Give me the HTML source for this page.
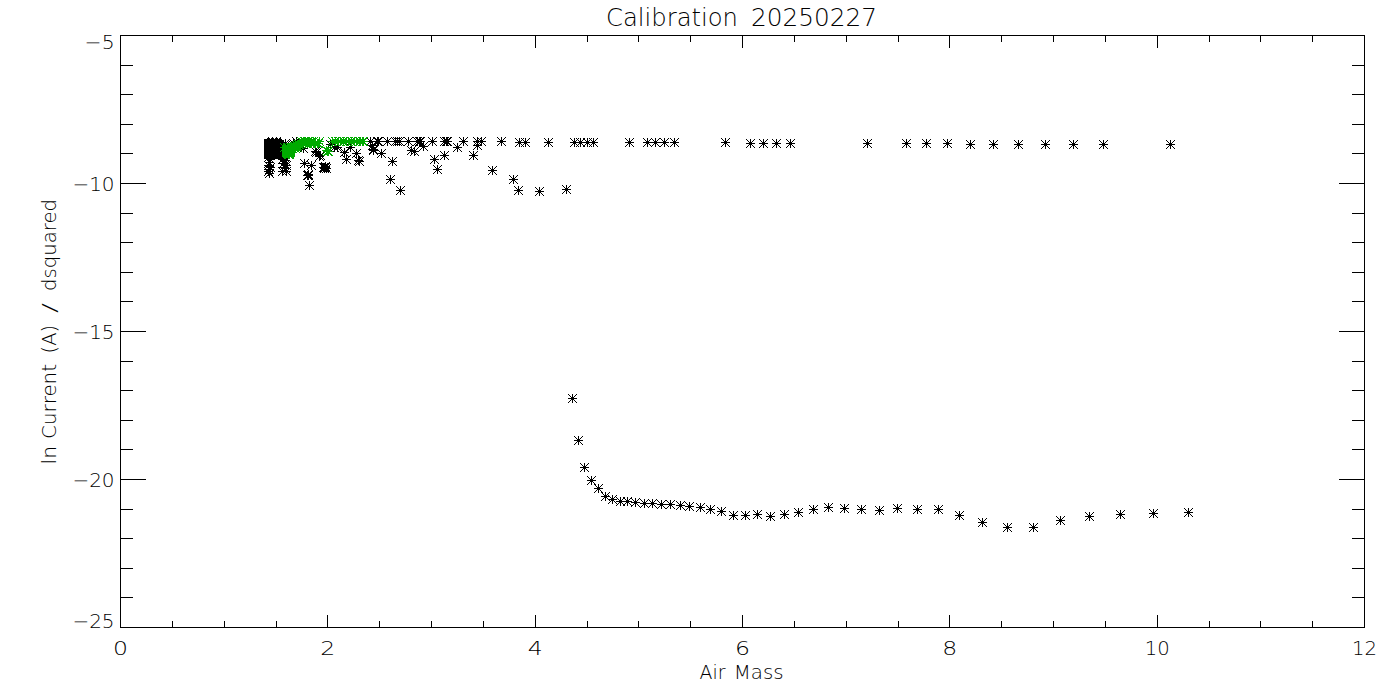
<!DOCTYPE html>
<html lang="en">
<head>
<meta charset="utf-8">
<title>Calibration 20250227</title>
<style>
html,body{margin:0;padding:0;background:#fff;}
body{width:1400px;height:700px;overflow:hidden;}
svg{display:block;}
text{font-family:"DejaVu Sans", "Liberation Sans", sans-serif;font-weight:200;fill:#000;}
.k{fill:#000;}
.g{fill:#00aa00;}
</style>
</head>
<body>
<svg width="1400" height="700" viewBox="0 0 1400 700" shape-rendering="crispEdges">
<rect width="1400" height="700" fill="#fff"/>
<path class="k" d="M120 35h1245v1h-1245zM120 627h1245v1h-1245zM120 35h1v593h-1zM1364 35h1v593h-1zM120 615h1v13h-1zM120 35h1v13h-1zM172 621h1v7h-1zM172 35h1v7h-1zM224 621h1v7h-1zM224 35h1v7h-1zM276 621h1v7h-1zM276 35h1v7h-1zM327 615h1v13h-1zM327 35h1v13h-1zM379 621h1v7h-1zM379 35h1v7h-1zM431 621h1v7h-1zM431 35h1v7h-1zM483 621h1v7h-1zM483 35h1v7h-1zM535 615h1v13h-1zM535 35h1v13h-1zM587 621h1v7h-1zM587 35h1v7h-1zM638 621h1v7h-1zM638 35h1v7h-1zM690 621h1v7h-1zM690 35h1v7h-1zM742 615h1v13h-1zM742 35h1v13h-1zM794 621h1v7h-1zM794 35h1v7h-1zM846 621h1v7h-1zM846 35h1v7h-1zM898 621h1v7h-1zM898 35h1v7h-1zM949 615h1v13h-1zM949 35h1v13h-1zM1001 621h1v7h-1zM1001 35h1v7h-1zM1053 621h1v7h-1zM1053 35h1v7h-1zM1105 621h1v7h-1zM1105 35h1v7h-1zM1157 615h1v13h-1zM1157 35h1v13h-1zM1209 621h1v7h-1zM1209 35h1v7h-1zM1260 621h1v7h-1zM1260 35h1v7h-1zM1312 621h1v7h-1zM1312 35h1v7h-1zM1364 615h1v13h-1zM1364 35h1v13h-1zM120 35h26v1h-26zM1339 35h26v1h-26zM120 65h13v1h-13zM1352 65h13v1h-13zM120 94h13v1h-13zM1352 94h13v1h-13zM120 124h13v1h-13zM1352 124h13v1h-13zM120 153h13v1h-13zM1352 153h13v1h-13zM120 183h26v1h-26zM1339 183h26v1h-26zM120 213h13v1h-13zM1352 213h13v1h-13zM120 242h13v1h-13zM1352 242h13v1h-13zM120 272h13v1h-13zM1352 272h13v1h-13zM120 301h13v1h-13zM1352 301h13v1h-13zM120 331h26v1h-26zM1339 331h26v1h-26zM120 361h13v1h-13zM1352 361h13v1h-13zM120 390h13v1h-13zM1352 390h13v1h-13zM120 420h13v1h-13zM1352 420h13v1h-13zM120 449h13v1h-13zM1352 449h13v1h-13zM120 479h26v1h-26zM1339 479h26v1h-26zM120 509h13v1h-13zM1352 509h13v1h-13zM120 538h13v1h-13zM1352 538h13v1h-13zM120 568h13v1h-13zM1352 568h13v1h-13zM120 597h13v1h-13zM1352 597h13v1h-13zM120 627h26v1h-26zM1339 627h26v1h-26z"/>
<text y="25.5" font-size="24"><tspan x="606" textLength="132" lengthAdjust="spacingAndGlyphs">Calibration</tspan> <tspan x="751" textLength="126" lengthAdjust="spacingAndGlyphs">20250227</tspan></text>
<text y="679" font-size="19.2"><tspan x="699.5" textLength="26.0" lengthAdjust="spacingAndGlyphs">Air</tspan> <tspan x="733.7" textLength="50.0" lengthAdjust="spacingAndGlyphs">Mass</tspan></text>
<text transform="translate(56,463) rotate(-90)" y="0" font-size="19.2"><tspan x="-1.5" textLength="18.5" lengthAdjust="spacingAndGlyphs">ln</tspan> <tspan x="24" textLength="75" lengthAdjust="spacingAndGlyphs">Current</tspan> <tspan x="109.6" textLength="28.5" lengthAdjust="spacingAndGlyphs">(A)</tspan> <tspan x="150" textLength="10" lengthAdjust="spacingAndGlyphs">/</tspan> <tspan x="172" textLength="92" lengthAdjust="spacingAndGlyphs">dsquared</tspan></text>
<text x="113.0" y="655" font-size="19.2" textLength="15" lengthAdjust="spacingAndGlyphs">0</text>
<text x="320.3" y="655" font-size="19.2" textLength="15" lengthAdjust="spacingAndGlyphs">2</text>
<text x="527.7" y="655" font-size="19.2" textLength="15" lengthAdjust="spacingAndGlyphs">4</text>
<text x="735.0" y="655" font-size="19.2" textLength="15" lengthAdjust="spacingAndGlyphs">6</text>
<text x="942.3" y="655" font-size="19.2" textLength="15" lengthAdjust="spacingAndGlyphs">8</text>
<text x="1144.7" y="655" font-size="19.2" textLength="25" lengthAdjust="spacingAndGlyphs">10</text>
<text x="1352.0" y="655" font-size="19.2" textLength="25" lengthAdjust="spacingAndGlyphs">12</text>
<text x="84.6" y="49" font-size="19.2" textLength="30" lengthAdjust="spacingAndGlyphs">−5</text>
<text x="72.4" y="191" font-size="19.2" textLength="42.2" lengthAdjust="spacingAndGlyphs">−10</text>
<text x="72.4" y="339" font-size="19.2" textLength="42.2" lengthAdjust="spacingAndGlyphs">−15</text>
<text x="72.4" y="487" font-size="19.2" textLength="42.2" lengthAdjust="spacingAndGlyphs">−20</text>
<text x="72.4" y="628" font-size="19.2" textLength="42.2" lengthAdjust="spacingAndGlyphs">−25</text>
<g class="k">
<path d="M568 398h9v1h-9zM572 394h1v9h-1zM571 397h3v3h-3zM570 396h1v1h-1zM574 396h1v1h-1zM570 400h1v1h-1zM574 400h1v1h-1zM569 395h1v1h-1zM575 395h1v1h-1zM569 401h1v1h-1zM575 401h1v1h-1zM568 394h1v1h-1zM576 394h1v1h-1zM568 402h1v1h-1zM576 402h1v1h-1z"/>
<path d="M574 440h9v1h-9zM578 436h1v9h-1zM577 439h3v3h-3zM576 438h1v1h-1zM580 438h1v1h-1zM576 442h1v1h-1zM580 442h1v1h-1zM575 437h1v1h-1zM581 437h1v1h-1zM575 443h1v1h-1zM581 443h1v1h-1zM574 436h1v1h-1zM582 436h1v1h-1zM574 444h1v1h-1zM582 444h1v1h-1z"/>
<path d="M580 467h9v1h-9zM584 463h1v9h-1zM583 466h3v3h-3zM582 465h1v1h-1zM586 465h1v1h-1zM582 469h1v1h-1zM586 469h1v1h-1zM581 464h1v1h-1zM587 464h1v1h-1zM581 470h1v1h-1zM587 470h1v1h-1zM580 463h1v1h-1zM588 463h1v1h-1zM580 471h1v1h-1zM588 471h1v1h-1z"/>
<path d="M587 480h9v1h-9zM591 476h1v9h-1zM590 479h3v3h-3zM589 478h1v1h-1zM593 478h1v1h-1zM589 482h1v1h-1zM593 482h1v1h-1zM588 477h1v1h-1zM594 477h1v1h-1zM588 483h1v1h-1zM594 483h1v1h-1zM587 476h1v1h-1zM595 476h1v1h-1zM587 484h1v1h-1zM595 484h1v1h-1z"/>
<path d="M594 488h9v1h-9zM598 484h1v9h-1zM597 487h3v3h-3zM596 486h1v1h-1zM600 486h1v1h-1zM596 490h1v1h-1zM600 490h1v1h-1zM595 485h1v1h-1zM601 485h1v1h-1zM595 491h1v1h-1zM601 491h1v1h-1zM594 484h1v1h-1zM602 484h1v1h-1zM594 492h1v1h-1zM602 492h1v1h-1z"/>
<path d="M601 496h9v1h-9zM605 492h1v9h-1zM604 495h3v3h-3zM603 494h1v1h-1zM607 494h1v1h-1zM603 498h1v1h-1zM607 498h1v1h-1zM602 493h1v1h-1zM608 493h1v1h-1zM602 499h1v1h-1zM608 499h1v1h-1zM601 492h1v1h-1zM609 492h1v1h-1zM601 500h1v1h-1zM609 500h1v1h-1z"/>
<path d="M608 499h9v1h-9zM612 495h1v9h-1zM611 498h3v3h-3zM610 497h1v1h-1zM614 497h1v1h-1zM610 501h1v1h-1zM614 501h1v1h-1zM609 496h1v1h-1zM615 496h1v1h-1zM609 502h1v1h-1zM615 502h1v1h-1zM608 495h1v1h-1zM616 495h1v1h-1zM608 503h1v1h-1zM616 503h1v1h-1z"/>
<path d="M616 501h9v1h-9zM620 497h1v9h-1zM619 500h3v3h-3zM618 499h1v1h-1zM622 499h1v1h-1zM618 503h1v1h-1zM622 503h1v1h-1zM617 498h1v1h-1zM623 498h1v1h-1zM617 504h1v1h-1zM623 504h1v1h-1zM616 497h1v1h-1zM624 497h1v1h-1zM616 505h1v1h-1zM624 505h1v1h-1z"/>
<path d="M623 501h9v1h-9zM627 497h1v9h-1zM626 500h3v3h-3zM625 499h1v1h-1zM629 499h1v1h-1zM625 503h1v1h-1zM629 503h1v1h-1zM624 498h1v1h-1zM630 498h1v1h-1zM624 504h1v1h-1zM630 504h1v1h-1zM623 497h1v1h-1zM631 497h1v1h-1zM623 505h1v1h-1zM631 505h1v1h-1z"/>
<path d="M631 502h9v1h-9zM635 498h1v9h-1zM634 501h3v3h-3zM633 500h1v1h-1zM637 500h1v1h-1zM633 504h1v1h-1zM637 504h1v1h-1zM632 499h1v1h-1zM638 499h1v1h-1zM632 505h1v1h-1zM638 505h1v1h-1zM631 498h1v1h-1zM639 498h1v1h-1zM631 506h1v1h-1zM639 506h1v1h-1z"/>
<path d="M640 503h9v1h-9zM644 499h1v9h-1zM643 502h3v3h-3zM642 501h1v1h-1zM646 501h1v1h-1zM642 505h1v1h-1zM646 505h1v1h-1zM641 500h1v1h-1zM647 500h1v1h-1zM641 506h1v1h-1zM647 506h1v1h-1zM640 499h1v1h-1zM648 499h1v1h-1zM640 507h1v1h-1zM648 507h1v1h-1z"/>
<path d="M648 503h9v1h-9zM652 499h1v9h-1zM651 502h3v3h-3zM650 501h1v1h-1zM654 501h1v1h-1zM650 505h1v1h-1zM654 505h1v1h-1zM649 500h1v1h-1zM655 500h1v1h-1zM649 506h1v1h-1zM655 506h1v1h-1zM648 499h1v1h-1zM656 499h1v1h-1zM648 507h1v1h-1zM656 507h1v1h-1z"/>
<path d="M657 504h9v1h-9zM661 500h1v9h-1zM660 503h3v3h-3zM659 502h1v1h-1zM663 502h1v1h-1zM659 506h1v1h-1zM663 506h1v1h-1zM658 501h1v1h-1zM664 501h1v1h-1zM658 507h1v1h-1zM664 507h1v1h-1zM657 500h1v1h-1zM665 500h1v1h-1zM657 508h1v1h-1zM665 508h1v1h-1z"/>
<path d="M666 504h9v1h-9zM670 500h1v9h-1zM669 503h3v3h-3zM668 502h1v1h-1zM672 502h1v1h-1zM668 506h1v1h-1zM672 506h1v1h-1zM667 501h1v1h-1zM673 501h1v1h-1zM667 507h1v1h-1zM673 507h1v1h-1zM666 500h1v1h-1zM674 500h1v1h-1zM666 508h1v1h-1zM674 508h1v1h-1z"/>
<path d="M676 505h9v1h-9zM680 501h1v9h-1zM679 504h3v3h-3zM678 503h1v1h-1zM682 503h1v1h-1zM678 507h1v1h-1zM682 507h1v1h-1zM677 502h1v1h-1zM683 502h1v1h-1zM677 508h1v1h-1zM683 508h1v1h-1zM676 501h1v1h-1zM684 501h1v1h-1zM676 509h1v1h-1zM684 509h1v1h-1z"/>
<path d="M685 506h9v1h-9zM689 502h1v9h-1zM688 505h3v3h-3zM687 504h1v1h-1zM691 504h1v1h-1zM687 508h1v1h-1zM691 508h1v1h-1zM686 503h1v1h-1zM692 503h1v1h-1zM686 509h1v1h-1zM692 509h1v1h-1zM685 502h1v1h-1zM693 502h1v1h-1zM685 510h1v1h-1zM693 510h1v1h-1z"/>
<path d="M696 507h9v1h-9zM700 503h1v9h-1zM699 506h3v3h-3zM698 505h1v1h-1zM702 505h1v1h-1zM698 509h1v1h-1zM702 509h1v1h-1zM697 504h1v1h-1zM703 504h1v1h-1zM697 510h1v1h-1zM703 510h1v1h-1zM696 503h1v1h-1zM704 503h1v1h-1zM696 511h1v1h-1zM704 511h1v1h-1z"/>
<path d="M706 509h9v1h-9zM710 505h1v9h-1zM709 508h3v3h-3zM708 507h1v1h-1zM712 507h1v1h-1zM708 511h1v1h-1zM712 511h1v1h-1zM707 506h1v1h-1zM713 506h1v1h-1zM707 512h1v1h-1zM713 512h1v1h-1zM706 505h1v1h-1zM714 505h1v1h-1zM706 513h1v1h-1zM714 513h1v1h-1z"/>
<path d="M717 511h9v1h-9zM721 507h1v9h-1zM720 510h3v3h-3zM719 509h1v1h-1zM723 509h1v1h-1zM719 513h1v1h-1zM723 513h1v1h-1zM718 508h1v1h-1zM724 508h1v1h-1zM718 514h1v1h-1zM724 514h1v1h-1zM717 507h1v1h-1zM725 507h1v1h-1zM717 515h1v1h-1zM725 515h1v1h-1z"/>
<path d="M729 515h9v1h-9zM733 511h1v9h-1zM732 514h3v3h-3zM731 513h1v1h-1zM735 513h1v1h-1zM731 517h1v1h-1zM735 517h1v1h-1zM730 512h1v1h-1zM736 512h1v1h-1zM730 518h1v1h-1zM736 518h1v1h-1zM729 511h1v1h-1zM737 511h1v1h-1zM729 519h1v1h-1zM737 519h1v1h-1z"/>
<path d="M741 515h9v1h-9zM745 511h1v9h-1zM744 514h3v3h-3zM743 513h1v1h-1zM747 513h1v1h-1zM743 517h1v1h-1zM747 517h1v1h-1zM742 512h1v1h-1zM748 512h1v1h-1zM742 518h1v1h-1zM748 518h1v1h-1zM741 511h1v1h-1zM749 511h1v1h-1zM741 519h1v1h-1zM749 519h1v1h-1z"/>
<path d="M753 514h9v1h-9zM757 510h1v9h-1zM756 513h3v3h-3zM755 512h1v1h-1zM759 512h1v1h-1zM755 516h1v1h-1zM759 516h1v1h-1zM754 511h1v1h-1zM760 511h1v1h-1zM754 517h1v1h-1zM760 517h1v1h-1zM753 510h1v1h-1zM761 510h1v1h-1zM753 518h1v1h-1zM761 518h1v1h-1z"/>
<path d="M766 516h9v1h-9zM770 512h1v9h-1zM769 515h3v3h-3zM768 514h1v1h-1zM772 514h1v1h-1zM768 518h1v1h-1zM772 518h1v1h-1zM767 513h1v1h-1zM773 513h1v1h-1zM767 519h1v1h-1zM773 519h1v1h-1zM766 512h1v1h-1zM774 512h1v1h-1zM766 520h1v1h-1zM774 520h1v1h-1z"/>
<path d="M780 514h9v1h-9zM784 510h1v9h-1zM783 513h3v3h-3zM782 512h1v1h-1zM786 512h1v1h-1zM782 516h1v1h-1zM786 516h1v1h-1zM781 511h1v1h-1zM787 511h1v1h-1zM781 517h1v1h-1zM787 517h1v1h-1zM780 510h1v1h-1zM788 510h1v1h-1zM780 518h1v1h-1zM788 518h1v1h-1z"/>
<path d="M794 512h9v1h-9zM798 508h1v9h-1zM797 511h3v3h-3zM796 510h1v1h-1zM800 510h1v1h-1zM796 514h1v1h-1zM800 514h1v1h-1zM795 509h1v1h-1zM801 509h1v1h-1zM795 515h1v1h-1zM801 515h1v1h-1zM794 508h1v1h-1zM802 508h1v1h-1zM794 516h1v1h-1zM802 516h1v1h-1z"/>
<path d="M809 509h9v1h-9zM813 505h1v9h-1zM812 508h3v3h-3zM811 507h1v1h-1zM815 507h1v1h-1zM811 511h1v1h-1zM815 511h1v1h-1zM810 506h1v1h-1zM816 506h1v1h-1zM810 512h1v1h-1zM816 512h1v1h-1zM809 505h1v1h-1zM817 505h1v1h-1zM809 513h1v1h-1zM817 513h1v1h-1z"/>
<path d="M824 507h9v1h-9zM828 503h1v9h-1zM827 506h3v3h-3zM826 505h1v1h-1zM830 505h1v1h-1zM826 509h1v1h-1zM830 509h1v1h-1zM825 504h1v1h-1zM831 504h1v1h-1zM825 510h1v1h-1zM831 510h1v1h-1zM824 503h1v1h-1zM832 503h1v1h-1zM824 511h1v1h-1zM832 511h1v1h-1z"/>
<path d="M840 508h9v1h-9zM844 504h1v9h-1zM843 507h3v3h-3zM842 506h1v1h-1zM846 506h1v1h-1zM842 510h1v1h-1zM846 510h1v1h-1zM841 505h1v1h-1zM847 505h1v1h-1zM841 511h1v1h-1zM847 511h1v1h-1zM840 504h1v1h-1zM848 504h1v1h-1zM840 512h1v1h-1zM848 512h1v1h-1z"/>
<path d="M857 509h9v1h-9zM861 505h1v9h-1zM860 508h3v3h-3zM859 507h1v1h-1zM863 507h1v1h-1zM859 511h1v1h-1zM863 511h1v1h-1zM858 506h1v1h-1zM864 506h1v1h-1zM858 512h1v1h-1zM864 512h1v1h-1zM857 505h1v1h-1zM865 505h1v1h-1zM857 513h1v1h-1zM865 513h1v1h-1z"/>
<path d="M875 510h9v1h-9zM879 506h1v9h-1zM878 509h3v3h-3zM877 508h1v1h-1zM881 508h1v1h-1zM877 512h1v1h-1zM881 512h1v1h-1zM876 507h1v1h-1zM882 507h1v1h-1zM876 513h1v1h-1zM882 513h1v1h-1zM875 506h1v1h-1zM883 506h1v1h-1zM875 514h1v1h-1zM883 514h1v1h-1z"/>
<path d="M893 508h9v1h-9zM897 504h1v9h-1zM896 507h3v3h-3zM895 506h1v1h-1zM899 506h1v1h-1zM895 510h1v1h-1zM899 510h1v1h-1zM894 505h1v1h-1zM900 505h1v1h-1zM894 511h1v1h-1zM900 511h1v1h-1zM893 504h1v1h-1zM901 504h1v1h-1zM893 512h1v1h-1zM901 512h1v1h-1z"/>
<path d="M913 509h9v1h-9zM917 505h1v9h-1zM916 508h3v3h-3zM915 507h1v1h-1zM919 507h1v1h-1zM915 511h1v1h-1zM919 511h1v1h-1zM914 506h1v1h-1zM920 506h1v1h-1zM914 512h1v1h-1zM920 512h1v1h-1zM913 505h1v1h-1zM921 505h1v1h-1zM913 513h1v1h-1zM921 513h1v1h-1z"/>
<path d="M934 509h9v1h-9zM938 505h1v9h-1zM937 508h3v3h-3zM936 507h1v1h-1zM940 507h1v1h-1zM936 511h1v1h-1zM940 511h1v1h-1zM935 506h1v1h-1zM941 506h1v1h-1zM935 512h1v1h-1zM941 512h1v1h-1zM934 505h1v1h-1zM942 505h1v1h-1zM934 513h1v1h-1zM942 513h1v1h-1z"/>
<path d="M955 515h9v1h-9zM959 511h1v9h-1zM958 514h3v3h-3zM957 513h1v1h-1zM961 513h1v1h-1zM957 517h1v1h-1zM961 517h1v1h-1zM956 512h1v1h-1zM962 512h1v1h-1zM956 518h1v1h-1zM962 518h1v1h-1zM955 511h1v1h-1zM963 511h1v1h-1zM955 519h1v1h-1zM963 519h1v1h-1z"/>
<path d="M978 522h9v1h-9zM982 518h1v9h-1zM981 521h3v3h-3zM980 520h1v1h-1zM984 520h1v1h-1zM980 524h1v1h-1zM984 524h1v1h-1zM979 519h1v1h-1zM985 519h1v1h-1zM979 525h1v1h-1zM985 525h1v1h-1zM978 518h1v1h-1zM986 518h1v1h-1zM978 526h1v1h-1zM986 526h1v1h-1z"/>
<path d="M1003 527h9v1h-9zM1007 523h1v9h-1zM1006 526h3v3h-3zM1005 525h1v1h-1zM1009 525h1v1h-1zM1005 529h1v1h-1zM1009 529h1v1h-1zM1004 524h1v1h-1zM1010 524h1v1h-1zM1004 530h1v1h-1zM1010 530h1v1h-1zM1003 523h1v1h-1zM1011 523h1v1h-1zM1003 531h1v1h-1zM1011 531h1v1h-1z"/>
<path d="M1029 527h9v1h-9zM1033 523h1v9h-1zM1032 526h3v3h-3zM1031 525h1v1h-1zM1035 525h1v1h-1zM1031 529h1v1h-1zM1035 529h1v1h-1zM1030 524h1v1h-1zM1036 524h1v1h-1zM1030 530h1v1h-1zM1036 530h1v1h-1zM1029 523h1v1h-1zM1037 523h1v1h-1zM1029 531h1v1h-1zM1037 531h1v1h-1z"/>
<path d="M1056 520h9v1h-9zM1060 516h1v9h-1zM1059 519h3v3h-3zM1058 518h1v1h-1zM1062 518h1v1h-1zM1058 522h1v1h-1zM1062 522h1v1h-1zM1057 517h1v1h-1zM1063 517h1v1h-1zM1057 523h1v1h-1zM1063 523h1v1h-1zM1056 516h1v1h-1zM1064 516h1v1h-1zM1056 524h1v1h-1zM1064 524h1v1h-1z"/>
<path d="M1085 516h9v1h-9zM1089 512h1v9h-1zM1088 515h3v3h-3zM1087 514h1v1h-1zM1091 514h1v1h-1zM1087 518h1v1h-1zM1091 518h1v1h-1zM1086 513h1v1h-1zM1092 513h1v1h-1zM1086 519h1v1h-1zM1092 519h1v1h-1zM1085 512h1v1h-1zM1093 512h1v1h-1zM1085 520h1v1h-1zM1093 520h1v1h-1z"/>
<path d="M1116 514h9v1h-9zM1120 510h1v9h-1zM1119 513h3v3h-3zM1118 512h1v1h-1zM1122 512h1v1h-1zM1118 516h1v1h-1zM1122 516h1v1h-1zM1117 511h1v1h-1zM1123 511h1v1h-1zM1117 517h1v1h-1zM1123 517h1v1h-1zM1116 510h1v1h-1zM1124 510h1v1h-1zM1116 518h1v1h-1zM1124 518h1v1h-1z"/>
<path d="M1149 513h9v1h-9zM1153 509h1v9h-1zM1152 512h3v3h-3zM1151 511h1v1h-1zM1155 511h1v1h-1zM1151 515h1v1h-1zM1155 515h1v1h-1zM1150 510h1v1h-1zM1156 510h1v1h-1zM1150 516h1v1h-1zM1156 516h1v1h-1zM1149 509h1v1h-1zM1157 509h1v1h-1zM1149 517h1v1h-1zM1157 517h1v1h-1z"/>
<path d="M1184 512h9v1h-9zM1188 508h1v9h-1zM1187 511h3v3h-3zM1186 510h1v1h-1zM1190 510h1v1h-1zM1186 514h1v1h-1zM1190 514h1v1h-1zM1185 509h1v1h-1zM1191 509h1v1h-1zM1185 515h1v1h-1zM1191 515h1v1h-1zM1184 508h1v1h-1zM1192 508h1v1h-1zM1184 516h1v1h-1zM1192 516h1v1h-1z"/>
<path d="M497 141h9v1h-9zM501 137h1v9h-1zM500 140h3v3h-3zM499 139h1v1h-1zM503 139h1v1h-1zM499 143h1v1h-1zM503 143h1v1h-1zM498 138h1v1h-1zM504 138h1v1h-1zM498 144h1v1h-1zM504 144h1v1h-1zM497 137h1v1h-1zM505 137h1v1h-1zM497 145h1v1h-1zM505 145h1v1h-1z"/>
<path d="M515 142h9v1h-9zM519 138h1v9h-1zM518 141h3v3h-3zM517 140h1v1h-1zM521 140h1v1h-1zM517 144h1v1h-1zM521 144h1v1h-1zM516 139h1v1h-1zM522 139h1v1h-1zM516 145h1v1h-1zM522 145h1v1h-1zM515 138h1v1h-1zM523 138h1v1h-1zM515 146h1v1h-1zM523 146h1v1h-1z"/>
<path d="M521 142h9v1h-9zM525 138h1v9h-1zM524 141h3v3h-3zM523 140h1v1h-1zM527 140h1v1h-1zM523 144h1v1h-1zM527 144h1v1h-1zM522 139h1v1h-1zM528 139h1v1h-1zM522 145h1v1h-1zM528 145h1v1h-1zM521 138h1v1h-1zM529 138h1v1h-1zM521 146h1v1h-1zM529 146h1v1h-1z"/>
<path d="M544 142h9v1h-9zM548 138h1v9h-1zM547 141h3v3h-3zM546 140h1v1h-1zM550 140h1v1h-1zM546 144h1v1h-1zM550 144h1v1h-1zM545 139h1v1h-1zM551 139h1v1h-1zM545 145h1v1h-1zM551 145h1v1h-1zM544 138h1v1h-1zM552 138h1v1h-1zM544 146h1v1h-1zM552 146h1v1h-1z"/>
<path d="M570 142h9v1h-9zM574 138h1v9h-1zM573 141h3v3h-3zM572 140h1v1h-1zM576 140h1v1h-1zM572 144h1v1h-1zM576 144h1v1h-1zM571 139h1v1h-1zM577 139h1v1h-1zM571 145h1v1h-1zM577 145h1v1h-1zM570 138h1v1h-1zM578 138h1v1h-1zM570 146h1v1h-1zM578 146h1v1h-1z"/>
<path d="M576 142h9v1h-9zM580 138h1v9h-1zM579 141h3v3h-3zM578 140h1v1h-1zM582 140h1v1h-1zM578 144h1v1h-1zM582 144h1v1h-1zM577 139h1v1h-1zM583 139h1v1h-1zM577 145h1v1h-1zM583 145h1v1h-1zM576 138h1v1h-1zM584 138h1v1h-1zM576 146h1v1h-1zM584 146h1v1h-1z"/>
<path d="M583 142h9v1h-9zM587 138h1v9h-1zM586 141h3v3h-3zM585 140h1v1h-1zM589 140h1v1h-1zM585 144h1v1h-1zM589 144h1v1h-1zM584 139h1v1h-1zM590 139h1v1h-1zM584 145h1v1h-1zM590 145h1v1h-1zM583 138h1v1h-1zM591 138h1v1h-1zM583 146h1v1h-1zM591 146h1v1h-1z"/>
<path d="M589 142h9v1h-9zM593 138h1v9h-1zM592 141h3v3h-3zM591 140h1v1h-1zM595 140h1v1h-1zM591 144h1v1h-1zM595 144h1v1h-1zM590 139h1v1h-1zM596 139h1v1h-1zM590 145h1v1h-1zM596 145h1v1h-1zM589 138h1v1h-1zM597 138h1v1h-1zM589 146h1v1h-1zM597 146h1v1h-1z"/>
<path d="M625 142h9v1h-9zM629 138h1v9h-1zM628 141h3v3h-3zM627 140h1v1h-1zM631 140h1v1h-1zM627 144h1v1h-1zM631 144h1v1h-1zM626 139h1v1h-1zM632 139h1v1h-1zM626 145h1v1h-1zM632 145h1v1h-1zM625 138h1v1h-1zM633 138h1v1h-1zM625 146h1v1h-1zM633 146h1v1h-1z"/>
<path d="M643 142h9v1h-9zM647 138h1v9h-1zM646 141h3v3h-3zM645 140h1v1h-1zM649 140h1v1h-1zM645 144h1v1h-1zM649 144h1v1h-1zM644 139h1v1h-1zM650 139h1v1h-1zM644 145h1v1h-1zM650 145h1v1h-1zM643 138h1v1h-1zM651 138h1v1h-1zM643 146h1v1h-1zM651 146h1v1h-1z"/>
<path d="M651 142h9v1h-9zM655 138h1v9h-1zM654 141h3v3h-3zM653 140h1v1h-1zM657 140h1v1h-1zM653 144h1v1h-1zM657 144h1v1h-1zM652 139h1v1h-1zM658 139h1v1h-1zM652 145h1v1h-1zM658 145h1v1h-1zM651 138h1v1h-1zM659 138h1v1h-1zM651 146h1v1h-1zM659 146h1v1h-1z"/>
<path d="M660 142h9v1h-9zM664 138h1v9h-1zM663 141h3v3h-3zM662 140h1v1h-1zM666 140h1v1h-1zM662 144h1v1h-1zM666 144h1v1h-1zM661 139h1v1h-1zM667 139h1v1h-1zM661 145h1v1h-1zM667 145h1v1h-1zM660 138h1v1h-1zM668 138h1v1h-1zM660 146h1v1h-1zM668 146h1v1h-1z"/>
<path d="M670 142h9v1h-9zM674 138h1v9h-1zM673 141h3v3h-3zM672 140h1v1h-1zM676 140h1v1h-1zM672 144h1v1h-1zM676 144h1v1h-1zM671 139h1v1h-1zM677 139h1v1h-1zM671 145h1v1h-1zM677 145h1v1h-1zM670 138h1v1h-1zM678 138h1v1h-1zM670 146h1v1h-1zM678 146h1v1h-1z"/>
<path d="M721 142h9v1h-9zM725 138h1v9h-1zM724 141h3v3h-3zM723 140h1v1h-1zM727 140h1v1h-1zM723 144h1v1h-1zM727 144h1v1h-1zM722 139h1v1h-1zM728 139h1v1h-1zM722 145h1v1h-1zM728 145h1v1h-1zM721 138h1v1h-1zM729 138h1v1h-1zM721 146h1v1h-1zM729 146h1v1h-1z"/>
<path d="M746 143h9v1h-9zM750 139h1v9h-1zM749 142h3v3h-3zM748 141h1v1h-1zM752 141h1v1h-1zM748 145h1v1h-1zM752 145h1v1h-1zM747 140h1v1h-1zM753 140h1v1h-1zM747 146h1v1h-1zM753 146h1v1h-1zM746 139h1v1h-1zM754 139h1v1h-1zM746 147h1v1h-1zM754 147h1v1h-1z"/>
<path d="M759 143h9v1h-9zM763 139h1v9h-1zM762 142h3v3h-3zM761 141h1v1h-1zM765 141h1v1h-1zM761 145h1v1h-1zM765 145h1v1h-1zM760 140h1v1h-1zM766 140h1v1h-1zM760 146h1v1h-1zM766 146h1v1h-1zM759 139h1v1h-1zM767 139h1v1h-1zM759 147h1v1h-1zM767 147h1v1h-1z"/>
<path d="M772 143h9v1h-9zM776 139h1v9h-1zM775 142h3v3h-3zM774 141h1v1h-1zM778 141h1v1h-1zM774 145h1v1h-1zM778 145h1v1h-1zM773 140h1v1h-1zM779 140h1v1h-1zM773 146h1v1h-1zM779 146h1v1h-1zM772 139h1v1h-1zM780 139h1v1h-1zM772 147h1v1h-1zM780 147h1v1h-1z"/>
<path d="M786 143h9v1h-9zM790 139h1v9h-1zM789 142h3v3h-3zM788 141h1v1h-1zM792 141h1v1h-1zM788 145h1v1h-1zM792 145h1v1h-1zM787 140h1v1h-1zM793 140h1v1h-1zM787 146h1v1h-1zM793 146h1v1h-1zM786 139h1v1h-1zM794 139h1v1h-1zM786 147h1v1h-1zM794 147h1v1h-1z"/>
<path d="M863 143h9v1h-9zM867 139h1v9h-1zM866 142h3v3h-3zM865 141h1v1h-1zM869 141h1v1h-1zM865 145h1v1h-1zM869 145h1v1h-1zM864 140h1v1h-1zM870 140h1v1h-1zM864 146h1v1h-1zM870 146h1v1h-1zM863 139h1v1h-1zM871 139h1v1h-1zM863 147h1v1h-1zM871 147h1v1h-1z"/>
<path d="M902 143h9v1h-9zM906 139h1v9h-1zM905 142h3v3h-3zM904 141h1v1h-1zM908 141h1v1h-1zM904 145h1v1h-1zM908 145h1v1h-1zM903 140h1v1h-1zM909 140h1v1h-1zM903 146h1v1h-1zM909 146h1v1h-1zM902 139h1v1h-1zM910 139h1v1h-1zM902 147h1v1h-1zM910 147h1v1h-1z"/>
<path d="M922 143h9v1h-9zM926 139h1v9h-1zM925 142h3v3h-3zM924 141h1v1h-1zM928 141h1v1h-1zM924 145h1v1h-1zM928 145h1v1h-1zM923 140h1v1h-1zM929 140h1v1h-1zM923 146h1v1h-1zM929 146h1v1h-1zM922 139h1v1h-1zM930 139h1v1h-1zM922 147h1v1h-1zM930 147h1v1h-1z"/>
<path d="M943 143h9v1h-9zM947 139h1v9h-1zM946 142h3v3h-3zM945 141h1v1h-1zM949 141h1v1h-1zM945 145h1v1h-1zM949 145h1v1h-1zM944 140h1v1h-1zM950 140h1v1h-1zM944 146h1v1h-1zM950 146h1v1h-1zM943 139h1v1h-1zM951 139h1v1h-1zM943 147h1v1h-1zM951 147h1v1h-1z"/>
<path d="M966 144h9v1h-9zM970 140h1v9h-1zM969 143h3v3h-3zM968 142h1v1h-1zM972 142h1v1h-1zM968 146h1v1h-1zM972 146h1v1h-1zM967 141h1v1h-1zM973 141h1v1h-1zM967 147h1v1h-1zM973 147h1v1h-1zM966 140h1v1h-1zM974 140h1v1h-1zM966 148h1v1h-1zM974 148h1v1h-1z"/>
<path d="M989 144h9v1h-9zM993 140h1v9h-1zM992 143h3v3h-3zM991 142h1v1h-1zM995 142h1v1h-1zM991 146h1v1h-1zM995 146h1v1h-1zM990 141h1v1h-1zM996 141h1v1h-1zM990 147h1v1h-1zM996 147h1v1h-1zM989 140h1v1h-1zM997 140h1v1h-1zM989 148h1v1h-1zM997 148h1v1h-1z"/>
<path d="M1014 144h9v1h-9zM1018 140h1v9h-1zM1017 143h3v3h-3zM1016 142h1v1h-1zM1020 142h1v1h-1zM1016 146h1v1h-1zM1020 146h1v1h-1zM1015 141h1v1h-1zM1021 141h1v1h-1zM1015 147h1v1h-1zM1021 147h1v1h-1zM1014 140h1v1h-1zM1022 140h1v1h-1zM1014 148h1v1h-1zM1022 148h1v1h-1z"/>
<path d="M1041 144h9v1h-9zM1045 140h1v9h-1zM1044 143h3v3h-3zM1043 142h1v1h-1zM1047 142h1v1h-1zM1043 146h1v1h-1zM1047 146h1v1h-1zM1042 141h1v1h-1zM1048 141h1v1h-1zM1042 147h1v1h-1zM1048 147h1v1h-1zM1041 140h1v1h-1zM1049 140h1v1h-1zM1041 148h1v1h-1zM1049 148h1v1h-1z"/>
<path d="M1069 144h9v1h-9zM1073 140h1v9h-1zM1072 143h3v3h-3zM1071 142h1v1h-1zM1075 142h1v1h-1zM1071 146h1v1h-1zM1075 146h1v1h-1zM1070 141h1v1h-1zM1076 141h1v1h-1zM1070 147h1v1h-1zM1076 147h1v1h-1zM1069 140h1v1h-1zM1077 140h1v1h-1zM1069 148h1v1h-1zM1077 148h1v1h-1z"/>
<path d="M1099 144h9v1h-9zM1103 140h1v9h-1zM1102 143h3v3h-3zM1101 142h1v1h-1zM1105 142h1v1h-1zM1101 146h1v1h-1zM1105 146h1v1h-1zM1100 141h1v1h-1zM1106 141h1v1h-1zM1100 147h1v1h-1zM1106 147h1v1h-1zM1099 140h1v1h-1zM1107 140h1v1h-1zM1099 148h1v1h-1zM1107 148h1v1h-1z"/>
<path d="M1166 144h9v1h-9zM1170 140h1v9h-1zM1169 143h3v3h-3zM1168 142h1v1h-1zM1172 142h1v1h-1zM1168 146h1v1h-1zM1172 146h1v1h-1zM1167 141h1v1h-1zM1173 141h1v1h-1zM1167 147h1v1h-1zM1173 147h1v1h-1zM1166 140h1v1h-1zM1174 140h1v1h-1zM1166 148h1v1h-1zM1174 148h1v1h-1z"/>
<path d="M488 170h9v1h-9zM492 166h1v9h-1zM491 169h3v3h-3zM490 168h1v1h-1zM494 168h1v1h-1zM490 172h1v1h-1zM494 172h1v1h-1zM489 167h1v1h-1zM495 167h1v1h-1zM489 173h1v1h-1zM495 173h1v1h-1zM488 166h1v1h-1zM496 166h1v1h-1zM488 174h1v1h-1zM496 174h1v1h-1z"/>
<path d="M509 179h9v1h-9zM513 175h1v9h-1zM512 178h3v3h-3zM511 177h1v1h-1zM515 177h1v1h-1zM511 181h1v1h-1zM515 181h1v1h-1zM510 176h1v1h-1zM516 176h1v1h-1zM510 182h1v1h-1zM516 182h1v1h-1zM509 175h1v1h-1zM517 175h1v1h-1zM509 183h1v1h-1zM517 183h1v1h-1z"/>
<path d="M514 190h9v1h-9zM518 186h1v9h-1zM517 189h3v3h-3zM516 188h1v1h-1zM520 188h1v1h-1zM516 192h1v1h-1zM520 192h1v1h-1zM515 187h1v1h-1zM521 187h1v1h-1zM515 193h1v1h-1zM521 193h1v1h-1zM514 186h1v1h-1zM522 186h1v1h-1zM514 194h1v1h-1zM522 194h1v1h-1z"/>
<path d="M535 191h9v1h-9zM539 187h1v9h-1zM538 190h3v3h-3zM537 189h1v1h-1zM541 189h1v1h-1zM537 193h1v1h-1zM541 193h1v1h-1zM536 188h1v1h-1zM542 188h1v1h-1zM536 194h1v1h-1zM542 194h1v1h-1zM535 187h1v1h-1zM543 187h1v1h-1zM535 195h1v1h-1zM543 195h1v1h-1z"/>
<path d="M562 189h9v1h-9zM566 185h1v9h-1zM565 188h3v3h-3zM564 187h1v1h-1zM568 187h1v1h-1zM564 191h1v1h-1zM568 191h1v1h-1zM563 186h1v1h-1zM569 186h1v1h-1zM563 192h1v1h-1zM569 192h1v1h-1zM562 185h1v1h-1zM570 185h1v1h-1zM562 193h1v1h-1zM570 193h1v1h-1z"/>
<path d="M386 179h9v1h-9zM390 175h1v9h-1zM389 178h3v3h-3zM388 177h1v1h-1zM392 177h1v1h-1zM388 181h1v1h-1zM392 181h1v1h-1zM387 176h1v1h-1zM393 176h1v1h-1zM387 182h1v1h-1zM393 182h1v1h-1zM386 175h1v1h-1zM394 175h1v1h-1zM386 183h1v1h-1zM394 183h1v1h-1z"/>
<path d="M396 190h9v1h-9zM400 186h1v9h-1zM399 189h3v3h-3zM398 188h1v1h-1zM402 188h1v1h-1zM398 192h1v1h-1zM402 192h1v1h-1zM397 187h1v1h-1zM403 187h1v1h-1zM397 193h1v1h-1zM403 193h1v1h-1zM396 186h1v1h-1zM404 186h1v1h-1zM396 194h1v1h-1zM404 194h1v1h-1z"/>
<path d="M395 141h9v1h-9zM399 137h1v9h-1zM398 140h3v3h-3zM397 139h1v1h-1zM401 139h1v1h-1zM397 143h1v1h-1zM401 143h1v1h-1zM396 138h1v1h-1zM402 138h1v1h-1zM396 144h1v1h-1zM402 144h1v1h-1zM395 137h1v1h-1zM403 137h1v1h-1zM395 145h1v1h-1zM403 145h1v1h-1z"/>
<path d="M404 141h9v1h-9zM408 137h1v9h-1zM407 140h3v3h-3zM406 139h1v1h-1zM410 139h1v1h-1zM406 143h1v1h-1zM410 143h1v1h-1zM405 138h1v1h-1zM411 138h1v1h-1zM405 144h1v1h-1zM411 144h1v1h-1zM404 137h1v1h-1zM412 137h1v1h-1zM404 145h1v1h-1zM412 145h1v1h-1z"/>
<path d="M413 141h9v1h-9zM417 137h1v9h-1zM416 140h3v3h-3zM415 139h1v1h-1zM419 139h1v1h-1zM415 143h1v1h-1zM419 143h1v1h-1zM414 138h1v1h-1zM420 138h1v1h-1zM414 144h1v1h-1zM420 144h1v1h-1zM413 137h1v1h-1zM421 137h1v1h-1zM413 145h1v1h-1zM421 145h1v1h-1z"/>
<path d="M415 141h9v1h-9zM419 137h1v9h-1zM418 140h3v3h-3zM417 139h1v1h-1zM421 139h1v1h-1zM417 143h1v1h-1zM421 143h1v1h-1zM416 138h1v1h-1zM422 138h1v1h-1zM416 144h1v1h-1zM422 144h1v1h-1zM415 137h1v1h-1zM423 137h1v1h-1zM415 145h1v1h-1zM423 145h1v1h-1z"/>
<path d="M416 141h9v1h-9zM420 137h1v9h-1zM419 140h3v3h-3zM418 139h1v1h-1zM422 139h1v1h-1zM418 143h1v1h-1zM422 143h1v1h-1zM417 138h1v1h-1zM423 138h1v1h-1zM417 144h1v1h-1zM423 144h1v1h-1zM416 137h1v1h-1zM424 137h1v1h-1zM416 145h1v1h-1zM424 145h1v1h-1z"/>
<path d="M428 141h9v1h-9zM432 137h1v9h-1zM431 140h3v3h-3zM430 139h1v1h-1zM434 139h1v1h-1zM430 143h1v1h-1zM434 143h1v1h-1zM429 138h1v1h-1zM435 138h1v1h-1zM429 144h1v1h-1zM435 144h1v1h-1zM428 137h1v1h-1zM436 137h1v1h-1zM428 145h1v1h-1zM436 145h1v1h-1z"/>
<path d="M440 141h9v1h-9zM444 137h1v9h-1zM443 140h3v3h-3zM442 139h1v1h-1zM446 139h1v1h-1zM442 143h1v1h-1zM446 143h1v1h-1zM441 138h1v1h-1zM447 138h1v1h-1zM441 144h1v1h-1zM447 144h1v1h-1zM440 137h1v1h-1zM448 137h1v1h-1zM440 145h1v1h-1zM448 145h1v1h-1z"/>
<path d="M442 141h9v1h-9zM446 137h1v9h-1zM445 140h3v3h-3zM444 139h1v1h-1zM448 139h1v1h-1zM444 143h1v1h-1zM448 143h1v1h-1zM443 138h1v1h-1zM449 138h1v1h-1zM443 144h1v1h-1zM449 144h1v1h-1zM442 137h1v1h-1zM450 137h1v1h-1zM442 145h1v1h-1zM450 145h1v1h-1z"/>
<path d="M443 141h9v1h-9zM447 137h1v9h-1zM446 140h3v3h-3zM445 139h1v1h-1zM449 139h1v1h-1zM445 143h1v1h-1zM449 143h1v1h-1zM444 138h1v1h-1zM450 138h1v1h-1zM444 144h1v1h-1zM450 144h1v1h-1zM443 137h1v1h-1zM451 137h1v1h-1zM443 145h1v1h-1zM451 145h1v1h-1z"/>
<path d="M459 141h9v1h-9zM463 137h1v9h-1zM462 140h3v3h-3zM461 139h1v1h-1zM465 139h1v1h-1zM461 143h1v1h-1zM465 143h1v1h-1zM460 138h1v1h-1zM466 138h1v1h-1zM460 144h1v1h-1zM466 144h1v1h-1zM459 137h1v1h-1zM467 137h1v1h-1zM459 145h1v1h-1zM467 145h1v1h-1z"/>
<path d="M473 141h9v1h-9zM477 137h1v9h-1zM476 140h3v3h-3zM475 139h1v1h-1zM479 139h1v1h-1zM475 143h1v1h-1zM479 143h1v1h-1zM474 138h1v1h-1zM480 138h1v1h-1zM474 144h1v1h-1zM480 144h1v1h-1zM473 137h1v1h-1zM481 137h1v1h-1zM473 145h1v1h-1zM481 145h1v1h-1z"/>
<path d="M477 141h9v1h-9zM481 137h1v9h-1zM480 140h3v3h-3zM479 139h1v1h-1zM483 139h1v1h-1zM479 143h1v1h-1zM483 143h1v1h-1zM478 138h1v1h-1zM484 138h1v1h-1zM478 144h1v1h-1zM484 144h1v1h-1zM477 137h1v1h-1zM485 137h1v1h-1zM477 145h1v1h-1zM485 145h1v1h-1z"/>
<path d="M473 145h9v1h-9zM477 141h1v9h-1zM476 144h3v3h-3zM475 143h1v1h-1zM479 143h1v1h-1zM475 147h1v1h-1zM479 147h1v1h-1zM474 142h1v1h-1zM480 142h1v1h-1zM474 148h1v1h-1zM480 148h1v1h-1zM473 141h1v1h-1zM481 141h1v1h-1zM473 149h1v1h-1zM481 149h1v1h-1z"/>
<path d="M419 146h9v1h-9zM423 142h1v9h-1zM422 145h3v3h-3zM421 144h1v1h-1zM425 144h1v1h-1zM421 148h1v1h-1zM425 148h1v1h-1zM420 143h1v1h-1zM426 143h1v1h-1zM420 149h1v1h-1zM426 149h1v1h-1zM419 142h1v1h-1zM427 142h1v1h-1zM419 150h1v1h-1zM427 150h1v1h-1z"/>
<path d="M407 150h9v1h-9zM411 146h1v9h-1zM410 149h3v3h-3zM409 148h1v1h-1zM413 148h1v1h-1zM409 152h1v1h-1zM413 152h1v1h-1zM408 147h1v1h-1zM414 147h1v1h-1zM408 153h1v1h-1zM414 153h1v1h-1zM407 146h1v1h-1zM415 146h1v1h-1zM407 154h1v1h-1zM415 154h1v1h-1z"/>
<path d="M410 151h9v1h-9zM414 147h1v9h-1zM413 150h3v3h-3zM412 149h1v1h-1zM416 149h1v1h-1zM412 153h1v1h-1zM416 153h1v1h-1zM411 148h1v1h-1zM417 148h1v1h-1zM411 154h1v1h-1zM417 154h1v1h-1zM410 147h1v1h-1zM418 147h1v1h-1zM410 155h1v1h-1zM418 155h1v1h-1z"/>
<path d="M453 147h9v1h-9zM457 143h1v9h-1zM456 146h3v3h-3zM455 145h1v1h-1zM459 145h1v1h-1zM455 149h1v1h-1zM459 149h1v1h-1zM454 144h1v1h-1zM460 144h1v1h-1zM454 150h1v1h-1zM460 150h1v1h-1zM453 143h1v1h-1zM461 143h1v1h-1zM453 151h1v1h-1zM461 151h1v1h-1z"/>
<path d="M440 155h9v1h-9zM444 151h1v9h-1zM443 154h3v3h-3zM442 153h1v1h-1zM446 153h1v1h-1zM442 157h1v1h-1zM446 157h1v1h-1zM441 152h1v1h-1zM447 152h1v1h-1zM441 158h1v1h-1zM447 158h1v1h-1zM440 151h1v1h-1zM448 151h1v1h-1zM440 159h1v1h-1zM448 159h1v1h-1z"/>
<path d="M430 159h9v1h-9zM434 155h1v9h-1zM433 158h3v3h-3zM432 157h1v1h-1zM436 157h1v1h-1zM432 161h1v1h-1zM436 161h1v1h-1zM431 156h1v1h-1zM437 156h1v1h-1zM431 162h1v1h-1zM437 162h1v1h-1zM430 155h1v1h-1zM438 155h1v1h-1zM430 163h1v1h-1zM438 163h1v1h-1z"/>
<path d="M433 169h9v1h-9zM437 165h1v9h-1zM436 168h3v3h-3zM435 167h1v1h-1zM439 167h1v1h-1zM435 171h1v1h-1zM439 171h1v1h-1zM434 166h1v1h-1zM440 166h1v1h-1zM434 172h1v1h-1zM440 172h1v1h-1zM433 165h1v1h-1zM441 165h1v1h-1zM433 173h1v1h-1zM441 173h1v1h-1z"/>
<path d="M469 155h9v1h-9zM473 151h1v9h-1zM472 154h3v3h-3zM471 153h1v1h-1zM475 153h1v1h-1zM471 157h1v1h-1zM475 157h1v1h-1zM470 152h1v1h-1zM476 152h1v1h-1zM470 158h1v1h-1zM476 158h1v1h-1zM469 151h1v1h-1zM477 151h1v1h-1zM469 159h1v1h-1zM477 159h1v1h-1z"/>
<path d="M366 141h9v1h-9zM370 137h1v9h-1zM369 140h3v3h-3zM368 139h1v1h-1zM372 139h1v1h-1zM368 143h1v1h-1zM372 143h1v1h-1zM367 138h1v1h-1zM373 138h1v1h-1zM367 144h1v1h-1zM373 144h1v1h-1zM366 137h1v1h-1zM374 137h1v1h-1zM366 145h1v1h-1zM374 145h1v1h-1z"/>
<path d="M368 145h9v1h-9zM372 141h1v9h-1zM371 144h3v3h-3zM370 143h1v1h-1zM374 143h1v1h-1zM370 147h1v1h-1zM374 147h1v1h-1zM369 142h1v1h-1zM375 142h1v1h-1zM369 148h1v1h-1zM375 148h1v1h-1zM368 141h1v1h-1zM376 141h1v1h-1zM368 149h1v1h-1zM376 149h1v1h-1z"/>
<path d="M369 149h9v1h-9zM373 145h1v9h-1zM372 148h3v3h-3zM371 147h1v1h-1zM375 147h1v1h-1zM371 151h1v1h-1zM375 151h1v1h-1zM370 146h1v1h-1zM376 146h1v1h-1zM370 152h1v1h-1zM376 152h1v1h-1zM369 145h1v1h-1zM377 145h1v1h-1zM369 153h1v1h-1zM377 153h1v1h-1z"/>
<path d="M369 150h9v1h-9zM373 146h1v9h-1zM372 149h3v3h-3zM371 148h1v1h-1zM375 148h1v1h-1zM371 152h1v1h-1zM375 152h1v1h-1zM370 147h1v1h-1zM376 147h1v1h-1zM370 153h1v1h-1zM376 153h1v1h-1zM369 146h1v1h-1zM377 146h1v1h-1zM369 154h1v1h-1zM377 154h1v1h-1z"/>
<path d="M373 141h9v1h-9zM377 137h1v9h-1zM376 140h3v3h-3zM375 139h1v1h-1zM379 139h1v1h-1zM375 143h1v1h-1zM379 143h1v1h-1zM374 138h1v1h-1zM380 138h1v1h-1zM374 144h1v1h-1zM380 144h1v1h-1zM373 137h1v1h-1zM381 137h1v1h-1zM373 145h1v1h-1zM381 145h1v1h-1z"/>
<path d="M374 141h9v1h-9zM378 137h1v9h-1zM377 140h3v3h-3zM376 139h1v1h-1zM380 139h1v1h-1zM376 143h1v1h-1zM380 143h1v1h-1zM375 138h1v1h-1zM381 138h1v1h-1zM375 144h1v1h-1zM381 144h1v1h-1zM374 137h1v1h-1zM382 137h1v1h-1zM374 145h1v1h-1zM382 145h1v1h-1z"/>
<path d="M383 141h9v1h-9zM387 137h1v9h-1zM386 140h3v3h-3zM385 139h1v1h-1zM389 139h1v1h-1zM385 143h1v1h-1zM389 143h1v1h-1zM384 138h1v1h-1zM390 138h1v1h-1zM384 144h1v1h-1zM390 144h1v1h-1zM383 137h1v1h-1zM391 137h1v1h-1zM383 145h1v1h-1zM391 145h1v1h-1z"/>
<path d="M391 141h9v1h-9zM395 137h1v9h-1zM394 140h3v3h-3zM393 139h1v1h-1zM397 139h1v1h-1zM393 143h1v1h-1zM397 143h1v1h-1zM392 138h1v1h-1zM398 138h1v1h-1zM392 144h1v1h-1zM398 144h1v1h-1zM391 137h1v1h-1zM399 137h1v1h-1zM391 145h1v1h-1zM399 145h1v1h-1z"/>
<path d="M393 141h9v1h-9zM397 137h1v9h-1zM396 140h3v3h-3zM395 139h1v1h-1zM399 139h1v1h-1zM395 143h1v1h-1zM399 143h1v1h-1zM394 138h1v1h-1zM400 138h1v1h-1zM394 144h1v1h-1zM400 144h1v1h-1zM393 137h1v1h-1zM401 137h1v1h-1zM393 145h1v1h-1zM401 145h1v1h-1z"/>
<path d="M377 153h9v1h-9zM381 149h1v9h-1zM380 152h3v3h-3zM379 151h1v1h-1zM383 151h1v1h-1zM379 155h1v1h-1zM383 155h1v1h-1zM378 150h1v1h-1zM384 150h1v1h-1zM378 156h1v1h-1zM384 156h1v1h-1zM377 149h1v1h-1zM385 149h1v1h-1zM377 157h1v1h-1zM385 157h1v1h-1z"/>
<path d="M388 161h9v1h-9zM392 157h1v9h-1zM391 160h3v3h-3zM390 159h1v1h-1zM394 159h1v1h-1zM390 163h1v1h-1zM394 163h1v1h-1zM389 158h1v1h-1zM395 158h1v1h-1zM389 164h1v1h-1zM395 164h1v1h-1zM388 157h1v1h-1zM396 157h1v1h-1zM388 165h1v1h-1zM396 165h1v1h-1z"/>
<path d="M352 153h9v1h-9zM356 149h1v9h-1zM355 152h3v3h-3zM354 151h1v1h-1zM358 151h1v1h-1zM354 155h1v1h-1zM358 155h1v1h-1zM353 150h1v1h-1zM359 150h1v1h-1zM353 156h1v1h-1zM359 156h1v1h-1zM352 149h1v1h-1zM360 149h1v1h-1zM352 157h1v1h-1zM360 157h1v1h-1z"/>
<path d="M340 152h9v1h-9zM344 148h1v9h-1zM343 151h3v3h-3zM342 150h1v1h-1zM346 150h1v1h-1zM342 154h1v1h-1zM346 154h1v1h-1zM341 149h1v1h-1zM347 149h1v1h-1zM341 155h1v1h-1zM347 155h1v1h-1zM340 148h1v1h-1zM348 148h1v1h-1zM340 156h1v1h-1zM348 156h1v1h-1z"/>
<path d="M342 159h9v1h-9zM346 155h1v9h-1zM345 158h3v3h-3zM344 157h1v1h-1zM348 157h1v1h-1zM344 161h1v1h-1zM348 161h1v1h-1zM343 156h1v1h-1zM349 156h1v1h-1zM343 162h1v1h-1zM349 162h1v1h-1zM342 155h1v1h-1zM350 155h1v1h-1zM342 163h1v1h-1zM350 163h1v1h-1z"/>
<path d="M354 160h9v1h-9zM358 156h1v9h-1zM357 159h3v3h-3zM356 158h1v1h-1zM360 158h1v1h-1zM356 162h1v1h-1zM360 162h1v1h-1zM355 157h1v1h-1zM361 157h1v1h-1zM355 163h1v1h-1zM361 163h1v1h-1zM354 156h1v1h-1zM362 156h1v1h-1zM354 164h1v1h-1zM362 164h1v1h-1z"/>
<path d="M355 161h9v1h-9zM359 157h1v9h-1zM358 160h3v3h-3zM357 159h1v1h-1zM361 159h1v1h-1zM357 163h1v1h-1zM361 163h1v1h-1zM356 158h1v1h-1zM362 158h1v1h-1zM356 164h1v1h-1zM362 164h1v1h-1zM355 157h1v1h-1zM363 157h1v1h-1zM355 165h1v1h-1zM363 165h1v1h-1z"/>
<path d="M330 147h9v1h-9zM334 143h1v9h-1zM333 146h3v3h-3zM332 145h1v1h-1zM336 145h1v1h-1zM332 149h1v1h-1zM336 149h1v1h-1zM331 144h1v1h-1zM337 144h1v1h-1zM331 150h1v1h-1zM337 150h1v1h-1zM330 143h1v1h-1zM338 143h1v1h-1zM330 151h1v1h-1zM338 151h1v1h-1z"/>
<path d="M333 147h9v1h-9zM337 143h1v9h-1zM336 146h3v3h-3zM335 145h1v1h-1zM339 145h1v1h-1zM335 149h1v1h-1zM339 149h1v1h-1zM334 144h1v1h-1zM340 144h1v1h-1zM334 150h1v1h-1zM340 150h1v1h-1zM333 143h1v1h-1zM341 143h1v1h-1zM333 151h1v1h-1zM341 151h1v1h-1z"/>
<path d="M320 167h9v1h-9zM324 163h1v9h-1zM323 166h3v3h-3zM322 165h1v1h-1zM326 165h1v1h-1zM322 169h1v1h-1zM326 169h1v1h-1zM321 164h1v1h-1zM327 164h1v1h-1zM321 170h1v1h-1zM327 170h1v1h-1zM320 163h1v1h-1zM328 163h1v1h-1zM320 171h1v1h-1zM328 171h1v1h-1z"/>
<path d="M321 167h9v1h-9zM325 163h1v9h-1zM324 166h3v3h-3zM323 165h1v1h-1zM327 165h1v1h-1zM323 169h1v1h-1zM327 169h1v1h-1zM322 164h1v1h-1zM328 164h1v1h-1zM322 170h1v1h-1zM328 170h1v1h-1zM321 163h1v1h-1zM329 163h1v1h-1zM321 171h1v1h-1zM329 171h1v1h-1z"/>
<path d="M320 168h9v1h-9zM324 164h1v9h-1zM323 167h3v3h-3zM322 166h1v1h-1zM326 166h1v1h-1zM322 170h1v1h-1zM326 170h1v1h-1zM321 165h1v1h-1zM327 165h1v1h-1zM321 171h1v1h-1zM327 171h1v1h-1zM320 164h1v1h-1zM328 164h1v1h-1zM320 172h1v1h-1zM328 172h1v1h-1z"/>
<path d="M319 167h9v1h-9zM323 163h1v9h-1zM322 166h3v3h-3zM321 165h1v1h-1zM325 165h1v1h-1zM321 169h1v1h-1zM325 169h1v1h-1zM320 164h1v1h-1zM326 164h1v1h-1zM320 170h1v1h-1zM326 170h1v1h-1zM319 163h1v1h-1zM327 163h1v1h-1zM319 171h1v1h-1zM327 171h1v1h-1z"/>
<path d="M322 168h9v1h-9zM326 164h1v9h-1zM325 167h3v3h-3zM324 166h1v1h-1zM328 166h1v1h-1zM324 170h1v1h-1zM328 170h1v1h-1zM323 165h1v1h-1zM329 165h1v1h-1zM323 171h1v1h-1zM329 171h1v1h-1zM322 164h1v1h-1zM330 164h1v1h-1zM322 172h1v1h-1zM330 172h1v1h-1z"/>
<path d="M321 166h9v1h-9zM325 162h1v9h-1zM324 165h3v3h-3zM323 164h1v1h-1zM327 164h1v1h-1zM323 168h1v1h-1zM327 168h1v1h-1zM322 163h1v1h-1zM328 163h1v1h-1zM322 169h1v1h-1zM328 169h1v1h-1zM321 162h1v1h-1zM329 162h1v1h-1zM321 170h1v1h-1zM329 170h1v1h-1z"/>
<path d="M316 155h9v1h-9zM320 151h1v9h-1zM319 154h3v3h-3zM318 153h1v1h-1zM322 153h1v1h-1zM318 157h1v1h-1zM322 157h1v1h-1zM317 152h1v1h-1zM323 152h1v1h-1zM317 158h1v1h-1zM323 158h1v1h-1zM316 151h1v1h-1zM324 151h1v1h-1zM316 159h1v1h-1zM324 159h1v1h-1z"/>
<path d="M346 147h9v1h-9zM350 143h1v9h-1zM349 146h3v3h-3zM348 145h1v1h-1zM352 145h1v1h-1zM348 149h1v1h-1zM352 149h1v1h-1zM347 144h1v1h-1zM353 144h1v1h-1zM347 150h1v1h-1zM353 150h1v1h-1zM346 143h1v1h-1zM354 143h1v1h-1zM346 151h1v1h-1zM354 151h1v1h-1z"/>
<path d="M299 148h9v1h-9zM303 144h1v9h-1zM302 147h3v3h-3zM301 146h1v1h-1zM305 146h1v1h-1zM301 150h1v1h-1zM305 150h1v1h-1zM300 145h1v1h-1zM306 145h1v1h-1zM300 151h1v1h-1zM306 151h1v1h-1zM299 144h1v1h-1zM307 144h1v1h-1zM299 152h1v1h-1zM307 152h1v1h-1z"/>
<path d="M311 151h9v1h-9zM315 147h1v9h-1zM314 150h3v3h-3zM313 149h1v1h-1zM317 149h1v1h-1zM313 153h1v1h-1zM317 153h1v1h-1zM312 148h1v1h-1zM318 148h1v1h-1zM312 154h1v1h-1zM318 154h1v1h-1zM311 147h1v1h-1zM319 147h1v1h-1zM311 155h1v1h-1zM319 155h1v1h-1z"/>
<path d="M312 152h9v1h-9zM316 148h1v9h-1zM315 151h3v3h-3zM314 150h1v1h-1zM318 150h1v1h-1zM314 154h1v1h-1zM318 154h1v1h-1zM313 149h1v1h-1zM319 149h1v1h-1zM313 155h1v1h-1zM319 155h1v1h-1zM312 148h1v1h-1zM320 148h1v1h-1zM312 156h1v1h-1zM320 156h1v1h-1z"/>
<path d="M315 156h9v1h-9zM319 152h1v9h-1zM318 155h3v3h-3zM317 154h1v1h-1zM321 154h1v1h-1zM317 158h1v1h-1zM321 158h1v1h-1zM316 153h1v1h-1zM322 153h1v1h-1zM316 159h1v1h-1zM322 159h1v1h-1zM315 152h1v1h-1zM323 152h1v1h-1zM315 160h1v1h-1zM323 160h1v1h-1z"/>
<path d="M300 163h9v1h-9zM304 159h1v9h-1zM303 162h3v3h-3zM302 161h1v1h-1zM306 161h1v1h-1zM302 165h1v1h-1zM306 165h1v1h-1zM301 160h1v1h-1zM307 160h1v1h-1zM301 166h1v1h-1zM307 166h1v1h-1zM300 159h1v1h-1zM308 159h1v1h-1zM300 167h1v1h-1zM308 167h1v1h-1z"/>
<path d="M307 165h9v1h-9zM311 161h1v9h-1zM310 164h3v3h-3zM309 163h1v1h-1zM313 163h1v1h-1zM309 167h1v1h-1zM313 167h1v1h-1zM308 162h1v1h-1zM314 162h1v1h-1zM308 168h1v1h-1zM314 168h1v1h-1zM307 161h1v1h-1zM315 161h1v1h-1zM307 169h1v1h-1zM315 169h1v1h-1z"/>
<path d="M303 175h9v1h-9zM307 171h1v9h-1zM306 174h3v3h-3zM305 173h1v1h-1zM309 173h1v1h-1zM305 177h1v1h-1zM309 177h1v1h-1zM304 172h1v1h-1zM310 172h1v1h-1zM304 178h1v1h-1zM310 178h1v1h-1zM303 171h1v1h-1zM311 171h1v1h-1zM303 179h1v1h-1zM311 179h1v1h-1z"/>
<path d="M304 175h9v1h-9zM308 171h1v9h-1zM307 174h3v3h-3zM306 173h1v1h-1zM310 173h1v1h-1zM306 177h1v1h-1zM310 177h1v1h-1zM305 172h1v1h-1zM311 172h1v1h-1zM305 178h1v1h-1zM311 178h1v1h-1zM304 171h1v1h-1zM312 171h1v1h-1zM304 179h1v1h-1zM312 179h1v1h-1z"/>
<path d="M304 174h9v1h-9zM308 170h1v9h-1zM307 173h3v3h-3zM306 172h1v1h-1zM310 172h1v1h-1zM306 176h1v1h-1zM310 176h1v1h-1zM305 171h1v1h-1zM311 171h1v1h-1zM305 177h1v1h-1zM311 177h1v1h-1zM304 170h1v1h-1zM312 170h1v1h-1zM304 178h1v1h-1zM312 178h1v1h-1z"/>
<path d="M305 185h9v1h-9zM309 181h1v9h-1zM308 184h3v3h-3zM307 183h1v1h-1zM311 183h1v1h-1zM307 187h1v1h-1zM311 187h1v1h-1zM306 182h1v1h-1zM312 182h1v1h-1zM306 188h1v1h-1zM312 188h1v1h-1zM305 181h1v1h-1zM313 181h1v1h-1zM305 189h1v1h-1zM313 189h1v1h-1z"/>
<path d="M292 141h9v1h-9zM296 137h1v9h-1zM295 140h3v3h-3zM294 139h1v1h-1zM298 139h1v1h-1zM294 143h1v1h-1zM298 143h1v1h-1zM293 138h1v1h-1zM299 138h1v1h-1zM293 144h1v1h-1zM299 144h1v1h-1zM292 137h1v1h-1zM300 137h1v1h-1zM292 145h1v1h-1zM300 145h1v1h-1z"/>
<path d="M326 144h9v1h-9zM330 140h1v9h-1zM329 143h3v3h-3zM328 142h1v1h-1zM332 142h1v1h-1zM328 146h1v1h-1zM332 146h1v1h-1zM327 141h1v1h-1zM333 141h1v1h-1zM327 147h1v1h-1zM333 147h1v1h-1zM326 140h1v1h-1zM334 140h1v1h-1zM326 148h1v1h-1zM334 148h1v1h-1z"/>
<path d="M264 143h9v1h-9zM268 139h1v9h-1zM267 142h3v3h-3zM266 141h1v1h-1zM270 141h1v1h-1zM266 145h1v1h-1zM270 145h1v1h-1zM265 140h1v1h-1zM271 140h1v1h-1zM265 146h1v1h-1zM271 146h1v1h-1zM264 139h1v1h-1zM272 139h1v1h-1zM264 147h1v1h-1zM272 147h1v1h-1z"/>
<path d="M264 144h9v1h-9zM268 140h1v9h-1zM267 143h3v3h-3zM266 142h1v1h-1zM270 142h1v1h-1zM266 146h1v1h-1zM270 146h1v1h-1zM265 141h1v1h-1zM271 141h1v1h-1zM265 147h1v1h-1zM271 147h1v1h-1zM264 140h1v1h-1zM272 140h1v1h-1zM264 148h1v1h-1zM272 148h1v1h-1z"/>
<path d="M264 145h9v1h-9zM268 141h1v9h-1zM267 144h3v3h-3zM266 143h1v1h-1zM270 143h1v1h-1zM266 147h1v1h-1zM270 147h1v1h-1zM265 142h1v1h-1zM271 142h1v1h-1zM265 148h1v1h-1zM271 148h1v1h-1zM264 141h1v1h-1zM272 141h1v1h-1zM264 149h1v1h-1zM272 149h1v1h-1z"/>
<path d="M264 146h9v1h-9zM268 142h1v9h-1zM267 145h3v3h-3zM266 144h1v1h-1zM270 144h1v1h-1zM266 148h1v1h-1zM270 148h1v1h-1zM265 143h1v1h-1zM271 143h1v1h-1zM265 149h1v1h-1zM271 149h1v1h-1zM264 142h1v1h-1zM272 142h1v1h-1zM264 150h1v1h-1zM272 150h1v1h-1z"/>
<path d="M264 147h9v1h-9zM268 143h1v9h-1zM267 146h3v3h-3zM266 145h1v1h-1zM270 145h1v1h-1zM266 149h1v1h-1zM270 149h1v1h-1zM265 144h1v1h-1zM271 144h1v1h-1zM265 150h1v1h-1zM271 150h1v1h-1zM264 143h1v1h-1zM272 143h1v1h-1zM264 151h1v1h-1zM272 151h1v1h-1z"/>
<path d="M264 148h9v1h-9zM268 144h1v9h-1zM267 147h3v3h-3zM266 146h1v1h-1zM270 146h1v1h-1zM266 150h1v1h-1zM270 150h1v1h-1zM265 145h1v1h-1zM271 145h1v1h-1zM265 151h1v1h-1zM271 151h1v1h-1zM264 144h1v1h-1zM272 144h1v1h-1zM264 152h1v1h-1zM272 152h1v1h-1z"/>
<path d="M264 149h9v1h-9zM268 145h1v9h-1zM267 148h3v3h-3zM266 147h1v1h-1zM270 147h1v1h-1zM266 151h1v1h-1zM270 151h1v1h-1zM265 146h1v1h-1zM271 146h1v1h-1zM265 152h1v1h-1zM271 152h1v1h-1zM264 145h1v1h-1zM272 145h1v1h-1zM264 153h1v1h-1zM272 153h1v1h-1z"/>
<path d="M264 150h9v1h-9zM268 146h1v9h-1zM267 149h3v3h-3zM266 148h1v1h-1zM270 148h1v1h-1zM266 152h1v1h-1zM270 152h1v1h-1zM265 147h1v1h-1zM271 147h1v1h-1zM265 153h1v1h-1zM271 153h1v1h-1zM264 146h1v1h-1zM272 146h1v1h-1zM264 154h1v1h-1zM272 154h1v1h-1z"/>
<path d="M264 151h9v1h-9zM268 147h1v9h-1zM267 150h3v3h-3zM266 149h1v1h-1zM270 149h1v1h-1zM266 153h1v1h-1zM270 153h1v1h-1zM265 148h1v1h-1zM271 148h1v1h-1zM265 154h1v1h-1zM271 154h1v1h-1zM264 147h1v1h-1zM272 147h1v1h-1zM264 155h1v1h-1zM272 155h1v1h-1z"/>
<path d="M264 152h9v1h-9zM268 148h1v9h-1zM267 151h3v3h-3zM266 150h1v1h-1zM270 150h1v1h-1zM266 154h1v1h-1zM270 154h1v1h-1zM265 149h1v1h-1zM271 149h1v1h-1zM265 155h1v1h-1zM271 155h1v1h-1zM264 148h1v1h-1zM272 148h1v1h-1zM264 156h1v1h-1zM272 156h1v1h-1z"/>
<path d="M264 153h9v1h-9zM268 149h1v9h-1zM267 152h3v3h-3zM266 151h1v1h-1zM270 151h1v1h-1zM266 155h1v1h-1zM270 155h1v1h-1zM265 150h1v1h-1zM271 150h1v1h-1zM265 156h1v1h-1zM271 156h1v1h-1zM264 149h1v1h-1zM272 149h1v1h-1zM264 157h1v1h-1zM272 157h1v1h-1z"/>
<path d="M264 154h9v1h-9zM268 150h1v9h-1zM267 153h3v3h-3zM266 152h1v1h-1zM270 152h1v1h-1zM266 156h1v1h-1zM270 156h1v1h-1zM265 151h1v1h-1zM271 151h1v1h-1zM265 157h1v1h-1zM271 157h1v1h-1zM264 150h1v1h-1zM272 150h1v1h-1zM264 158h1v1h-1zM272 158h1v1h-1z"/>
<path d="M265 143h9v1h-9zM269 139h1v9h-1zM268 142h3v3h-3zM267 141h1v1h-1zM271 141h1v1h-1zM267 145h1v1h-1zM271 145h1v1h-1zM266 140h1v1h-1zM272 140h1v1h-1zM266 146h1v1h-1zM272 146h1v1h-1zM265 139h1v1h-1zM273 139h1v1h-1zM265 147h1v1h-1zM273 147h1v1h-1z"/>
<path d="M265 144h9v1h-9zM269 140h1v9h-1zM268 143h3v3h-3zM267 142h1v1h-1zM271 142h1v1h-1zM267 146h1v1h-1zM271 146h1v1h-1zM266 141h1v1h-1zM272 141h1v1h-1zM266 147h1v1h-1zM272 147h1v1h-1zM265 140h1v1h-1zM273 140h1v1h-1zM265 148h1v1h-1zM273 148h1v1h-1z"/>
<path d="M265 145h9v1h-9zM269 141h1v9h-1zM268 144h3v3h-3zM267 143h1v1h-1zM271 143h1v1h-1zM267 147h1v1h-1zM271 147h1v1h-1zM266 142h1v1h-1zM272 142h1v1h-1zM266 148h1v1h-1zM272 148h1v1h-1zM265 141h1v1h-1zM273 141h1v1h-1zM265 149h1v1h-1zM273 149h1v1h-1z"/>
<path d="M265 146h9v1h-9zM269 142h1v9h-1zM268 145h3v3h-3zM267 144h1v1h-1zM271 144h1v1h-1zM267 148h1v1h-1zM271 148h1v1h-1zM266 143h1v1h-1zM272 143h1v1h-1zM266 149h1v1h-1zM272 149h1v1h-1zM265 142h1v1h-1zM273 142h1v1h-1zM265 150h1v1h-1zM273 150h1v1h-1z"/>
<path d="M265 147h9v1h-9zM269 143h1v9h-1zM268 146h3v3h-3zM267 145h1v1h-1zM271 145h1v1h-1zM267 149h1v1h-1zM271 149h1v1h-1zM266 144h1v1h-1zM272 144h1v1h-1zM266 150h1v1h-1zM272 150h1v1h-1zM265 143h1v1h-1zM273 143h1v1h-1zM265 151h1v1h-1zM273 151h1v1h-1z"/>
<path d="M265 148h9v1h-9zM269 144h1v9h-1zM268 147h3v3h-3zM267 146h1v1h-1zM271 146h1v1h-1zM267 150h1v1h-1zM271 150h1v1h-1zM266 145h1v1h-1zM272 145h1v1h-1zM266 151h1v1h-1zM272 151h1v1h-1zM265 144h1v1h-1zM273 144h1v1h-1zM265 152h1v1h-1zM273 152h1v1h-1z"/>
<path d="M265 149h9v1h-9zM269 145h1v9h-1zM268 148h3v3h-3zM267 147h1v1h-1zM271 147h1v1h-1zM267 151h1v1h-1zM271 151h1v1h-1zM266 146h1v1h-1zM272 146h1v1h-1zM266 152h1v1h-1zM272 152h1v1h-1zM265 145h1v1h-1zM273 145h1v1h-1zM265 153h1v1h-1zM273 153h1v1h-1z"/>
<path d="M265 150h9v1h-9zM269 146h1v9h-1zM268 149h3v3h-3zM267 148h1v1h-1zM271 148h1v1h-1zM267 152h1v1h-1zM271 152h1v1h-1zM266 147h1v1h-1zM272 147h1v1h-1zM266 153h1v1h-1zM272 153h1v1h-1zM265 146h1v1h-1zM273 146h1v1h-1zM265 154h1v1h-1zM273 154h1v1h-1z"/>
<path d="M265 151h9v1h-9zM269 147h1v9h-1zM268 150h3v3h-3zM267 149h1v1h-1zM271 149h1v1h-1zM267 153h1v1h-1zM271 153h1v1h-1zM266 148h1v1h-1zM272 148h1v1h-1zM266 154h1v1h-1zM272 154h1v1h-1zM265 147h1v1h-1zM273 147h1v1h-1zM265 155h1v1h-1zM273 155h1v1h-1z"/>
<path d="M265 152h9v1h-9zM269 148h1v9h-1zM268 151h3v3h-3zM267 150h1v1h-1zM271 150h1v1h-1zM267 154h1v1h-1zM271 154h1v1h-1zM266 149h1v1h-1zM272 149h1v1h-1zM266 155h1v1h-1zM272 155h1v1h-1zM265 148h1v1h-1zM273 148h1v1h-1zM265 156h1v1h-1zM273 156h1v1h-1z"/>
<path d="M265 153h9v1h-9zM269 149h1v9h-1zM268 152h3v3h-3zM267 151h1v1h-1zM271 151h1v1h-1zM267 155h1v1h-1zM271 155h1v1h-1zM266 150h1v1h-1zM272 150h1v1h-1zM266 156h1v1h-1zM272 156h1v1h-1zM265 149h1v1h-1zM273 149h1v1h-1zM265 157h1v1h-1zM273 157h1v1h-1z"/>
<path d="M265 154h9v1h-9zM269 150h1v9h-1zM268 153h3v3h-3zM267 152h1v1h-1zM271 152h1v1h-1zM267 156h1v1h-1zM271 156h1v1h-1zM266 151h1v1h-1zM272 151h1v1h-1zM266 157h1v1h-1zM272 157h1v1h-1zM265 150h1v1h-1zM273 150h1v1h-1zM265 158h1v1h-1zM273 158h1v1h-1z"/>
<path d="M266 143h9v1h-9zM270 139h1v9h-1zM269 142h3v3h-3zM268 141h1v1h-1zM272 141h1v1h-1zM268 145h1v1h-1zM272 145h1v1h-1zM267 140h1v1h-1zM273 140h1v1h-1zM267 146h1v1h-1zM273 146h1v1h-1zM266 139h1v1h-1zM274 139h1v1h-1zM266 147h1v1h-1zM274 147h1v1h-1z"/>
<path d="M266 144h9v1h-9zM270 140h1v9h-1zM269 143h3v3h-3zM268 142h1v1h-1zM272 142h1v1h-1zM268 146h1v1h-1zM272 146h1v1h-1zM267 141h1v1h-1zM273 141h1v1h-1zM267 147h1v1h-1zM273 147h1v1h-1zM266 140h1v1h-1zM274 140h1v1h-1zM266 148h1v1h-1zM274 148h1v1h-1z"/>
<path d="M266 145h9v1h-9zM270 141h1v9h-1zM269 144h3v3h-3zM268 143h1v1h-1zM272 143h1v1h-1zM268 147h1v1h-1zM272 147h1v1h-1zM267 142h1v1h-1zM273 142h1v1h-1zM267 148h1v1h-1zM273 148h1v1h-1zM266 141h1v1h-1zM274 141h1v1h-1zM266 149h1v1h-1zM274 149h1v1h-1z"/>
<path d="M266 146h9v1h-9zM270 142h1v9h-1zM269 145h3v3h-3zM268 144h1v1h-1zM272 144h1v1h-1zM268 148h1v1h-1zM272 148h1v1h-1zM267 143h1v1h-1zM273 143h1v1h-1zM267 149h1v1h-1zM273 149h1v1h-1zM266 142h1v1h-1zM274 142h1v1h-1zM266 150h1v1h-1zM274 150h1v1h-1z"/>
<path d="M266 147h9v1h-9zM270 143h1v9h-1zM269 146h3v3h-3zM268 145h1v1h-1zM272 145h1v1h-1zM268 149h1v1h-1zM272 149h1v1h-1zM267 144h1v1h-1zM273 144h1v1h-1zM267 150h1v1h-1zM273 150h1v1h-1zM266 143h1v1h-1zM274 143h1v1h-1zM266 151h1v1h-1zM274 151h1v1h-1z"/>
<path d="M266 148h9v1h-9zM270 144h1v9h-1zM269 147h3v3h-3zM268 146h1v1h-1zM272 146h1v1h-1zM268 150h1v1h-1zM272 150h1v1h-1zM267 145h1v1h-1zM273 145h1v1h-1zM267 151h1v1h-1zM273 151h1v1h-1zM266 144h1v1h-1zM274 144h1v1h-1zM266 152h1v1h-1zM274 152h1v1h-1z"/>
<path d="M266 149h9v1h-9zM270 145h1v9h-1zM269 148h3v3h-3zM268 147h1v1h-1zM272 147h1v1h-1zM268 151h1v1h-1zM272 151h1v1h-1zM267 146h1v1h-1zM273 146h1v1h-1zM267 152h1v1h-1zM273 152h1v1h-1zM266 145h1v1h-1zM274 145h1v1h-1zM266 153h1v1h-1zM274 153h1v1h-1z"/>
<path d="M266 150h9v1h-9zM270 146h1v9h-1zM269 149h3v3h-3zM268 148h1v1h-1zM272 148h1v1h-1zM268 152h1v1h-1zM272 152h1v1h-1zM267 147h1v1h-1zM273 147h1v1h-1zM267 153h1v1h-1zM273 153h1v1h-1zM266 146h1v1h-1zM274 146h1v1h-1zM266 154h1v1h-1zM274 154h1v1h-1z"/>
<path d="M266 151h9v1h-9zM270 147h1v9h-1zM269 150h3v3h-3zM268 149h1v1h-1zM272 149h1v1h-1zM268 153h1v1h-1zM272 153h1v1h-1zM267 148h1v1h-1zM273 148h1v1h-1zM267 154h1v1h-1zM273 154h1v1h-1zM266 147h1v1h-1zM274 147h1v1h-1zM266 155h1v1h-1zM274 155h1v1h-1z"/>
<path d="M266 152h9v1h-9zM270 148h1v9h-1zM269 151h3v3h-3zM268 150h1v1h-1zM272 150h1v1h-1zM268 154h1v1h-1zM272 154h1v1h-1zM267 149h1v1h-1zM273 149h1v1h-1zM267 155h1v1h-1zM273 155h1v1h-1zM266 148h1v1h-1zM274 148h1v1h-1zM266 156h1v1h-1zM274 156h1v1h-1z"/>
<path d="M266 153h9v1h-9zM270 149h1v9h-1zM269 152h3v3h-3zM268 151h1v1h-1zM272 151h1v1h-1zM268 155h1v1h-1zM272 155h1v1h-1zM267 150h1v1h-1zM273 150h1v1h-1zM267 156h1v1h-1zM273 156h1v1h-1zM266 149h1v1h-1zM274 149h1v1h-1zM266 157h1v1h-1zM274 157h1v1h-1z"/>
<path d="M266 154h9v1h-9zM270 150h1v9h-1zM269 153h3v3h-3zM268 152h1v1h-1zM272 152h1v1h-1zM268 156h1v1h-1zM272 156h1v1h-1zM267 151h1v1h-1zM273 151h1v1h-1zM267 157h1v1h-1zM273 157h1v1h-1zM266 150h1v1h-1zM274 150h1v1h-1zM266 158h1v1h-1zM274 158h1v1h-1z"/>
<path d="M267 142h9v1h-9zM271 138h1v9h-1zM270 141h3v3h-3zM269 140h1v1h-1zM273 140h1v1h-1zM269 144h1v1h-1zM273 144h1v1h-1zM268 139h1v1h-1zM274 139h1v1h-1zM268 145h1v1h-1zM274 145h1v1h-1zM267 138h1v1h-1zM275 138h1v1h-1zM267 146h1v1h-1zM275 146h1v1h-1z"/>
<path d="M267 143h9v1h-9zM271 139h1v9h-1zM270 142h3v3h-3zM269 141h1v1h-1zM273 141h1v1h-1zM269 145h1v1h-1zM273 145h1v1h-1zM268 140h1v1h-1zM274 140h1v1h-1zM268 146h1v1h-1zM274 146h1v1h-1zM267 139h1v1h-1zM275 139h1v1h-1zM267 147h1v1h-1zM275 147h1v1h-1z"/>
<path d="M267 144h9v1h-9zM271 140h1v9h-1zM270 143h3v3h-3zM269 142h1v1h-1zM273 142h1v1h-1zM269 146h1v1h-1zM273 146h1v1h-1zM268 141h1v1h-1zM274 141h1v1h-1zM268 147h1v1h-1zM274 147h1v1h-1zM267 140h1v1h-1zM275 140h1v1h-1zM267 148h1v1h-1zM275 148h1v1h-1z"/>
<path d="M267 145h9v1h-9zM271 141h1v9h-1zM270 144h3v3h-3zM269 143h1v1h-1zM273 143h1v1h-1zM269 147h1v1h-1zM273 147h1v1h-1zM268 142h1v1h-1zM274 142h1v1h-1zM268 148h1v1h-1zM274 148h1v1h-1zM267 141h1v1h-1zM275 141h1v1h-1zM267 149h1v1h-1zM275 149h1v1h-1z"/>
<path d="M267 146h9v1h-9zM271 142h1v9h-1zM270 145h3v3h-3zM269 144h1v1h-1zM273 144h1v1h-1zM269 148h1v1h-1zM273 148h1v1h-1zM268 143h1v1h-1zM274 143h1v1h-1zM268 149h1v1h-1zM274 149h1v1h-1zM267 142h1v1h-1zM275 142h1v1h-1zM267 150h1v1h-1zM275 150h1v1h-1z"/>
<path d="M267 147h9v1h-9zM271 143h1v9h-1zM270 146h3v3h-3zM269 145h1v1h-1zM273 145h1v1h-1zM269 149h1v1h-1zM273 149h1v1h-1zM268 144h1v1h-1zM274 144h1v1h-1zM268 150h1v1h-1zM274 150h1v1h-1zM267 143h1v1h-1zM275 143h1v1h-1zM267 151h1v1h-1zM275 151h1v1h-1z"/>
<path d="M267 148h9v1h-9zM271 144h1v9h-1zM270 147h3v3h-3zM269 146h1v1h-1zM273 146h1v1h-1zM269 150h1v1h-1zM273 150h1v1h-1zM268 145h1v1h-1zM274 145h1v1h-1zM268 151h1v1h-1zM274 151h1v1h-1zM267 144h1v1h-1zM275 144h1v1h-1zM267 152h1v1h-1zM275 152h1v1h-1z"/>
<path d="M267 149h9v1h-9zM271 145h1v9h-1zM270 148h3v3h-3zM269 147h1v1h-1zM273 147h1v1h-1zM269 151h1v1h-1zM273 151h1v1h-1zM268 146h1v1h-1zM274 146h1v1h-1zM268 152h1v1h-1zM274 152h1v1h-1zM267 145h1v1h-1zM275 145h1v1h-1zM267 153h1v1h-1zM275 153h1v1h-1z"/>
<path d="M267 150h9v1h-9zM271 146h1v9h-1zM270 149h3v3h-3zM269 148h1v1h-1zM273 148h1v1h-1zM269 152h1v1h-1zM273 152h1v1h-1zM268 147h1v1h-1zM274 147h1v1h-1zM268 153h1v1h-1zM274 153h1v1h-1zM267 146h1v1h-1zM275 146h1v1h-1zM267 154h1v1h-1zM275 154h1v1h-1z"/>
<path d="M267 151h9v1h-9zM271 147h1v9h-1zM270 150h3v3h-3zM269 149h1v1h-1zM273 149h1v1h-1zM269 153h1v1h-1zM273 153h1v1h-1zM268 148h1v1h-1zM274 148h1v1h-1zM268 154h1v1h-1zM274 154h1v1h-1zM267 147h1v1h-1zM275 147h1v1h-1zM267 155h1v1h-1zM275 155h1v1h-1z"/>
<path d="M267 152h9v1h-9zM271 148h1v9h-1zM270 151h3v3h-3zM269 150h1v1h-1zM273 150h1v1h-1zM269 154h1v1h-1zM273 154h1v1h-1zM268 149h1v1h-1zM274 149h1v1h-1zM268 155h1v1h-1zM274 155h1v1h-1zM267 148h1v1h-1zM275 148h1v1h-1zM267 156h1v1h-1zM275 156h1v1h-1z"/>
<path d="M267 153h9v1h-9zM271 149h1v9h-1zM270 152h3v3h-3zM269 151h1v1h-1zM273 151h1v1h-1zM269 155h1v1h-1zM273 155h1v1h-1zM268 150h1v1h-1zM274 150h1v1h-1zM268 156h1v1h-1zM274 156h1v1h-1zM267 149h1v1h-1zM275 149h1v1h-1zM267 157h1v1h-1zM275 157h1v1h-1z"/>
<path d="M267 154h9v1h-9zM271 150h1v9h-1zM270 153h3v3h-3zM269 152h1v1h-1zM273 152h1v1h-1zM269 156h1v1h-1zM273 156h1v1h-1zM268 151h1v1h-1zM274 151h1v1h-1zM268 157h1v1h-1zM274 157h1v1h-1zM267 150h1v1h-1zM275 150h1v1h-1zM267 158h1v1h-1zM275 158h1v1h-1z"/>
<path d="M268 141h9v1h-9zM272 137h1v9h-1zM271 140h3v3h-3zM270 139h1v1h-1zM274 139h1v1h-1zM270 143h1v1h-1zM274 143h1v1h-1zM269 138h1v1h-1zM275 138h1v1h-1zM269 144h1v1h-1zM275 144h1v1h-1zM268 137h1v1h-1zM276 137h1v1h-1zM268 145h1v1h-1zM276 145h1v1h-1z"/>
<path d="M268 142h9v1h-9zM272 138h1v9h-1zM271 141h3v3h-3zM270 140h1v1h-1zM274 140h1v1h-1zM270 144h1v1h-1zM274 144h1v1h-1zM269 139h1v1h-1zM275 139h1v1h-1zM269 145h1v1h-1zM275 145h1v1h-1zM268 138h1v1h-1zM276 138h1v1h-1zM268 146h1v1h-1zM276 146h1v1h-1z"/>
<path d="M268 143h9v1h-9zM272 139h1v9h-1zM271 142h3v3h-3zM270 141h1v1h-1zM274 141h1v1h-1zM270 145h1v1h-1zM274 145h1v1h-1zM269 140h1v1h-1zM275 140h1v1h-1zM269 146h1v1h-1zM275 146h1v1h-1zM268 139h1v1h-1zM276 139h1v1h-1zM268 147h1v1h-1zM276 147h1v1h-1z"/>
<path d="M268 144h9v1h-9zM272 140h1v9h-1zM271 143h3v3h-3zM270 142h1v1h-1zM274 142h1v1h-1zM270 146h1v1h-1zM274 146h1v1h-1zM269 141h1v1h-1zM275 141h1v1h-1zM269 147h1v1h-1zM275 147h1v1h-1zM268 140h1v1h-1zM276 140h1v1h-1zM268 148h1v1h-1zM276 148h1v1h-1z"/>
<path d="M268 145h9v1h-9zM272 141h1v9h-1zM271 144h3v3h-3zM270 143h1v1h-1zM274 143h1v1h-1zM270 147h1v1h-1zM274 147h1v1h-1zM269 142h1v1h-1zM275 142h1v1h-1zM269 148h1v1h-1zM275 148h1v1h-1zM268 141h1v1h-1zM276 141h1v1h-1zM268 149h1v1h-1zM276 149h1v1h-1z"/>
<path d="M268 146h9v1h-9zM272 142h1v9h-1zM271 145h3v3h-3zM270 144h1v1h-1zM274 144h1v1h-1zM270 148h1v1h-1zM274 148h1v1h-1zM269 143h1v1h-1zM275 143h1v1h-1zM269 149h1v1h-1zM275 149h1v1h-1zM268 142h1v1h-1zM276 142h1v1h-1zM268 150h1v1h-1zM276 150h1v1h-1z"/>
<path d="M268 147h9v1h-9zM272 143h1v9h-1zM271 146h3v3h-3zM270 145h1v1h-1zM274 145h1v1h-1zM270 149h1v1h-1zM274 149h1v1h-1zM269 144h1v1h-1zM275 144h1v1h-1zM269 150h1v1h-1zM275 150h1v1h-1zM268 143h1v1h-1zM276 143h1v1h-1zM268 151h1v1h-1zM276 151h1v1h-1z"/>
<path d="M268 148h9v1h-9zM272 144h1v9h-1zM271 147h3v3h-3zM270 146h1v1h-1zM274 146h1v1h-1zM270 150h1v1h-1zM274 150h1v1h-1zM269 145h1v1h-1zM275 145h1v1h-1zM269 151h1v1h-1zM275 151h1v1h-1zM268 144h1v1h-1zM276 144h1v1h-1zM268 152h1v1h-1zM276 152h1v1h-1z"/>
<path d="M268 149h9v1h-9zM272 145h1v9h-1zM271 148h3v3h-3zM270 147h1v1h-1zM274 147h1v1h-1zM270 151h1v1h-1zM274 151h1v1h-1zM269 146h1v1h-1zM275 146h1v1h-1zM269 152h1v1h-1zM275 152h1v1h-1zM268 145h1v1h-1zM276 145h1v1h-1zM268 153h1v1h-1zM276 153h1v1h-1z"/>
<path d="M268 150h9v1h-9zM272 146h1v9h-1zM271 149h3v3h-3zM270 148h1v1h-1zM274 148h1v1h-1zM270 152h1v1h-1zM274 152h1v1h-1zM269 147h1v1h-1zM275 147h1v1h-1zM269 153h1v1h-1zM275 153h1v1h-1zM268 146h1v1h-1zM276 146h1v1h-1zM268 154h1v1h-1zM276 154h1v1h-1z"/>
<path d="M268 151h9v1h-9zM272 147h1v9h-1zM271 150h3v3h-3zM270 149h1v1h-1zM274 149h1v1h-1zM270 153h1v1h-1zM274 153h1v1h-1zM269 148h1v1h-1zM275 148h1v1h-1zM269 154h1v1h-1zM275 154h1v1h-1zM268 147h1v1h-1zM276 147h1v1h-1zM268 155h1v1h-1zM276 155h1v1h-1z"/>
<path d="M268 152h9v1h-9zM272 148h1v9h-1zM271 151h3v3h-3zM270 150h1v1h-1zM274 150h1v1h-1zM270 154h1v1h-1zM274 154h1v1h-1zM269 149h1v1h-1zM275 149h1v1h-1zM269 155h1v1h-1zM275 155h1v1h-1zM268 148h1v1h-1zM276 148h1v1h-1zM268 156h1v1h-1zM276 156h1v1h-1z"/>
<path d="M268 153h9v1h-9zM272 149h1v9h-1zM271 152h3v3h-3zM270 151h1v1h-1zM274 151h1v1h-1zM270 155h1v1h-1zM274 155h1v1h-1zM269 150h1v1h-1zM275 150h1v1h-1zM269 156h1v1h-1zM275 156h1v1h-1zM268 149h1v1h-1zM276 149h1v1h-1zM268 157h1v1h-1zM276 157h1v1h-1z"/>
<path d="M268 154h9v1h-9zM272 150h1v9h-1zM271 153h3v3h-3zM270 152h1v1h-1zM274 152h1v1h-1zM270 156h1v1h-1zM274 156h1v1h-1zM269 151h1v1h-1zM275 151h1v1h-1zM269 157h1v1h-1zM275 157h1v1h-1zM268 150h1v1h-1zM276 150h1v1h-1zM268 158h1v1h-1zM276 158h1v1h-1z"/>
<path d="M269 142h9v1h-9zM273 138h1v9h-1zM272 141h3v3h-3zM271 140h1v1h-1zM275 140h1v1h-1zM271 144h1v1h-1zM275 144h1v1h-1zM270 139h1v1h-1zM276 139h1v1h-1zM270 145h1v1h-1zM276 145h1v1h-1zM269 138h1v1h-1zM277 138h1v1h-1zM269 146h1v1h-1zM277 146h1v1h-1z"/>
<path d="M269 143h9v1h-9zM273 139h1v9h-1zM272 142h3v3h-3zM271 141h1v1h-1zM275 141h1v1h-1zM271 145h1v1h-1zM275 145h1v1h-1zM270 140h1v1h-1zM276 140h1v1h-1zM270 146h1v1h-1zM276 146h1v1h-1zM269 139h1v1h-1zM277 139h1v1h-1zM269 147h1v1h-1zM277 147h1v1h-1z"/>
<path d="M269 144h9v1h-9zM273 140h1v9h-1zM272 143h3v3h-3zM271 142h1v1h-1zM275 142h1v1h-1zM271 146h1v1h-1zM275 146h1v1h-1zM270 141h1v1h-1zM276 141h1v1h-1zM270 147h1v1h-1zM276 147h1v1h-1zM269 140h1v1h-1zM277 140h1v1h-1zM269 148h1v1h-1zM277 148h1v1h-1z"/>
<path d="M269 145h9v1h-9zM273 141h1v9h-1zM272 144h3v3h-3zM271 143h1v1h-1zM275 143h1v1h-1zM271 147h1v1h-1zM275 147h1v1h-1zM270 142h1v1h-1zM276 142h1v1h-1zM270 148h1v1h-1zM276 148h1v1h-1zM269 141h1v1h-1zM277 141h1v1h-1zM269 149h1v1h-1zM277 149h1v1h-1z"/>
<path d="M269 146h9v1h-9zM273 142h1v9h-1zM272 145h3v3h-3zM271 144h1v1h-1zM275 144h1v1h-1zM271 148h1v1h-1zM275 148h1v1h-1zM270 143h1v1h-1zM276 143h1v1h-1zM270 149h1v1h-1zM276 149h1v1h-1zM269 142h1v1h-1zM277 142h1v1h-1zM269 150h1v1h-1zM277 150h1v1h-1z"/>
<path d="M269 147h9v1h-9zM273 143h1v9h-1zM272 146h3v3h-3zM271 145h1v1h-1zM275 145h1v1h-1zM271 149h1v1h-1zM275 149h1v1h-1zM270 144h1v1h-1zM276 144h1v1h-1zM270 150h1v1h-1zM276 150h1v1h-1zM269 143h1v1h-1zM277 143h1v1h-1zM269 151h1v1h-1zM277 151h1v1h-1z"/>
<path d="M269 148h9v1h-9zM273 144h1v9h-1zM272 147h3v3h-3zM271 146h1v1h-1zM275 146h1v1h-1zM271 150h1v1h-1zM275 150h1v1h-1zM270 145h1v1h-1zM276 145h1v1h-1zM270 151h1v1h-1zM276 151h1v1h-1zM269 144h1v1h-1zM277 144h1v1h-1zM269 152h1v1h-1zM277 152h1v1h-1z"/>
<path d="M269 149h9v1h-9zM273 145h1v9h-1zM272 148h3v3h-3zM271 147h1v1h-1zM275 147h1v1h-1zM271 151h1v1h-1zM275 151h1v1h-1zM270 146h1v1h-1zM276 146h1v1h-1zM270 152h1v1h-1zM276 152h1v1h-1zM269 145h1v1h-1zM277 145h1v1h-1zM269 153h1v1h-1zM277 153h1v1h-1z"/>
<path d="M269 150h9v1h-9zM273 146h1v9h-1zM272 149h3v3h-3zM271 148h1v1h-1zM275 148h1v1h-1zM271 152h1v1h-1zM275 152h1v1h-1zM270 147h1v1h-1zM276 147h1v1h-1zM270 153h1v1h-1zM276 153h1v1h-1zM269 146h1v1h-1zM277 146h1v1h-1zM269 154h1v1h-1zM277 154h1v1h-1z"/>
<path d="M269 151h9v1h-9zM273 147h1v9h-1zM272 150h3v3h-3zM271 149h1v1h-1zM275 149h1v1h-1zM271 153h1v1h-1zM275 153h1v1h-1zM270 148h1v1h-1zM276 148h1v1h-1zM270 154h1v1h-1zM276 154h1v1h-1zM269 147h1v1h-1zM277 147h1v1h-1zM269 155h1v1h-1zM277 155h1v1h-1z"/>
<path d="M269 152h9v1h-9zM273 148h1v9h-1zM272 151h3v3h-3zM271 150h1v1h-1zM275 150h1v1h-1zM271 154h1v1h-1zM275 154h1v1h-1zM270 149h1v1h-1zM276 149h1v1h-1zM270 155h1v1h-1zM276 155h1v1h-1zM269 148h1v1h-1zM277 148h1v1h-1zM269 156h1v1h-1zM277 156h1v1h-1z"/>
<path d="M269 153h9v1h-9zM273 149h1v9h-1zM272 152h3v3h-3zM271 151h1v1h-1zM275 151h1v1h-1zM271 155h1v1h-1zM275 155h1v1h-1zM270 150h1v1h-1zM276 150h1v1h-1zM270 156h1v1h-1zM276 156h1v1h-1zM269 149h1v1h-1zM277 149h1v1h-1zM269 157h1v1h-1zM277 157h1v1h-1z"/>
<path d="M269 154h9v1h-9zM273 150h1v9h-1zM272 153h3v3h-3zM271 152h1v1h-1zM275 152h1v1h-1zM271 156h1v1h-1zM275 156h1v1h-1zM270 151h1v1h-1zM276 151h1v1h-1zM270 157h1v1h-1zM276 157h1v1h-1zM269 150h1v1h-1zM277 150h1v1h-1zM269 158h1v1h-1zM277 158h1v1h-1z"/>
<path d="M270 143h9v1h-9zM274 139h1v9h-1zM273 142h3v3h-3zM272 141h1v1h-1zM276 141h1v1h-1zM272 145h1v1h-1zM276 145h1v1h-1zM271 140h1v1h-1zM277 140h1v1h-1zM271 146h1v1h-1zM277 146h1v1h-1zM270 139h1v1h-1zM278 139h1v1h-1zM270 147h1v1h-1zM278 147h1v1h-1z"/>
<path d="M270 144h9v1h-9zM274 140h1v9h-1zM273 143h3v3h-3zM272 142h1v1h-1zM276 142h1v1h-1zM272 146h1v1h-1zM276 146h1v1h-1zM271 141h1v1h-1zM277 141h1v1h-1zM271 147h1v1h-1zM277 147h1v1h-1zM270 140h1v1h-1zM278 140h1v1h-1zM270 148h1v1h-1zM278 148h1v1h-1z"/>
<path d="M270 145h9v1h-9zM274 141h1v9h-1zM273 144h3v3h-3zM272 143h1v1h-1zM276 143h1v1h-1zM272 147h1v1h-1zM276 147h1v1h-1zM271 142h1v1h-1zM277 142h1v1h-1zM271 148h1v1h-1zM277 148h1v1h-1zM270 141h1v1h-1zM278 141h1v1h-1zM270 149h1v1h-1zM278 149h1v1h-1z"/>
<path d="M270 146h9v1h-9zM274 142h1v9h-1zM273 145h3v3h-3zM272 144h1v1h-1zM276 144h1v1h-1zM272 148h1v1h-1zM276 148h1v1h-1zM271 143h1v1h-1zM277 143h1v1h-1zM271 149h1v1h-1zM277 149h1v1h-1zM270 142h1v1h-1zM278 142h1v1h-1zM270 150h1v1h-1zM278 150h1v1h-1z"/>
<path d="M270 147h9v1h-9zM274 143h1v9h-1zM273 146h3v3h-3zM272 145h1v1h-1zM276 145h1v1h-1zM272 149h1v1h-1zM276 149h1v1h-1zM271 144h1v1h-1zM277 144h1v1h-1zM271 150h1v1h-1zM277 150h1v1h-1zM270 143h1v1h-1zM278 143h1v1h-1zM270 151h1v1h-1zM278 151h1v1h-1z"/>
<path d="M270 148h9v1h-9zM274 144h1v9h-1zM273 147h3v3h-3zM272 146h1v1h-1zM276 146h1v1h-1zM272 150h1v1h-1zM276 150h1v1h-1zM271 145h1v1h-1zM277 145h1v1h-1zM271 151h1v1h-1zM277 151h1v1h-1zM270 144h1v1h-1zM278 144h1v1h-1zM270 152h1v1h-1zM278 152h1v1h-1z"/>
<path d="M270 149h9v1h-9zM274 145h1v9h-1zM273 148h3v3h-3zM272 147h1v1h-1zM276 147h1v1h-1zM272 151h1v1h-1zM276 151h1v1h-1zM271 146h1v1h-1zM277 146h1v1h-1zM271 152h1v1h-1zM277 152h1v1h-1zM270 145h1v1h-1zM278 145h1v1h-1zM270 153h1v1h-1zM278 153h1v1h-1z"/>
<path d="M270 150h9v1h-9zM274 146h1v9h-1zM273 149h3v3h-3zM272 148h1v1h-1zM276 148h1v1h-1zM272 152h1v1h-1zM276 152h1v1h-1zM271 147h1v1h-1zM277 147h1v1h-1zM271 153h1v1h-1zM277 153h1v1h-1zM270 146h1v1h-1zM278 146h1v1h-1zM270 154h1v1h-1zM278 154h1v1h-1z"/>
<path d="M270 151h9v1h-9zM274 147h1v9h-1zM273 150h3v3h-3zM272 149h1v1h-1zM276 149h1v1h-1zM272 153h1v1h-1zM276 153h1v1h-1zM271 148h1v1h-1zM277 148h1v1h-1zM271 154h1v1h-1zM277 154h1v1h-1zM270 147h1v1h-1zM278 147h1v1h-1zM270 155h1v1h-1zM278 155h1v1h-1z"/>
<path d="M270 152h9v1h-9zM274 148h1v9h-1zM273 151h3v3h-3zM272 150h1v1h-1zM276 150h1v1h-1zM272 154h1v1h-1zM276 154h1v1h-1zM271 149h1v1h-1zM277 149h1v1h-1zM271 155h1v1h-1zM277 155h1v1h-1zM270 148h1v1h-1zM278 148h1v1h-1zM270 156h1v1h-1zM278 156h1v1h-1z"/>
<path d="M270 153h9v1h-9zM274 149h1v9h-1zM273 152h3v3h-3zM272 151h1v1h-1zM276 151h1v1h-1zM272 155h1v1h-1zM276 155h1v1h-1zM271 150h1v1h-1zM277 150h1v1h-1zM271 156h1v1h-1zM277 156h1v1h-1zM270 149h1v1h-1zM278 149h1v1h-1zM270 157h1v1h-1zM278 157h1v1h-1z"/>
<path d="M270 154h9v1h-9zM274 150h1v9h-1zM273 153h3v3h-3zM272 152h1v1h-1zM276 152h1v1h-1zM272 156h1v1h-1zM276 156h1v1h-1zM271 151h1v1h-1zM277 151h1v1h-1zM271 157h1v1h-1zM277 157h1v1h-1zM270 150h1v1h-1zM278 150h1v1h-1zM270 158h1v1h-1zM278 158h1v1h-1z"/>
<path d="M271 143h9v1h-9zM275 139h1v9h-1zM274 142h3v3h-3zM273 141h1v1h-1zM277 141h1v1h-1zM273 145h1v1h-1zM277 145h1v1h-1zM272 140h1v1h-1zM278 140h1v1h-1zM272 146h1v1h-1zM278 146h1v1h-1zM271 139h1v1h-1zM279 139h1v1h-1zM271 147h1v1h-1zM279 147h1v1h-1z"/>
<path d="M271 144h9v1h-9zM275 140h1v9h-1zM274 143h3v3h-3zM273 142h1v1h-1zM277 142h1v1h-1zM273 146h1v1h-1zM277 146h1v1h-1zM272 141h1v1h-1zM278 141h1v1h-1zM272 147h1v1h-1zM278 147h1v1h-1zM271 140h1v1h-1zM279 140h1v1h-1zM271 148h1v1h-1zM279 148h1v1h-1z"/>
<path d="M271 145h9v1h-9zM275 141h1v9h-1zM274 144h3v3h-3zM273 143h1v1h-1zM277 143h1v1h-1zM273 147h1v1h-1zM277 147h1v1h-1zM272 142h1v1h-1zM278 142h1v1h-1zM272 148h1v1h-1zM278 148h1v1h-1zM271 141h1v1h-1zM279 141h1v1h-1zM271 149h1v1h-1zM279 149h1v1h-1z"/>
<path d="M271 146h9v1h-9zM275 142h1v9h-1zM274 145h3v3h-3zM273 144h1v1h-1zM277 144h1v1h-1zM273 148h1v1h-1zM277 148h1v1h-1zM272 143h1v1h-1zM278 143h1v1h-1zM272 149h1v1h-1zM278 149h1v1h-1zM271 142h1v1h-1zM279 142h1v1h-1zM271 150h1v1h-1zM279 150h1v1h-1z"/>
<path d="M271 147h9v1h-9zM275 143h1v9h-1zM274 146h3v3h-3zM273 145h1v1h-1zM277 145h1v1h-1zM273 149h1v1h-1zM277 149h1v1h-1zM272 144h1v1h-1zM278 144h1v1h-1zM272 150h1v1h-1zM278 150h1v1h-1zM271 143h1v1h-1zM279 143h1v1h-1zM271 151h1v1h-1zM279 151h1v1h-1z"/>
<path d="M271 148h9v1h-9zM275 144h1v9h-1zM274 147h3v3h-3zM273 146h1v1h-1zM277 146h1v1h-1zM273 150h1v1h-1zM277 150h1v1h-1zM272 145h1v1h-1zM278 145h1v1h-1zM272 151h1v1h-1zM278 151h1v1h-1zM271 144h1v1h-1zM279 144h1v1h-1zM271 152h1v1h-1zM279 152h1v1h-1z"/>
<path d="M271 149h9v1h-9zM275 145h1v9h-1zM274 148h3v3h-3zM273 147h1v1h-1zM277 147h1v1h-1zM273 151h1v1h-1zM277 151h1v1h-1zM272 146h1v1h-1zM278 146h1v1h-1zM272 152h1v1h-1zM278 152h1v1h-1zM271 145h1v1h-1zM279 145h1v1h-1zM271 153h1v1h-1zM279 153h1v1h-1z"/>
<path d="M271 150h9v1h-9zM275 146h1v9h-1zM274 149h3v3h-3zM273 148h1v1h-1zM277 148h1v1h-1zM273 152h1v1h-1zM277 152h1v1h-1zM272 147h1v1h-1zM278 147h1v1h-1zM272 153h1v1h-1zM278 153h1v1h-1zM271 146h1v1h-1zM279 146h1v1h-1zM271 154h1v1h-1zM279 154h1v1h-1z"/>
<path d="M271 151h9v1h-9zM275 147h1v9h-1zM274 150h3v3h-3zM273 149h1v1h-1zM277 149h1v1h-1zM273 153h1v1h-1zM277 153h1v1h-1zM272 148h1v1h-1zM278 148h1v1h-1zM272 154h1v1h-1zM278 154h1v1h-1zM271 147h1v1h-1zM279 147h1v1h-1zM271 155h1v1h-1zM279 155h1v1h-1z"/>
<path d="M271 152h9v1h-9zM275 148h1v9h-1zM274 151h3v3h-3zM273 150h1v1h-1zM277 150h1v1h-1zM273 154h1v1h-1zM277 154h1v1h-1zM272 149h1v1h-1zM278 149h1v1h-1zM272 155h1v1h-1zM278 155h1v1h-1zM271 148h1v1h-1zM279 148h1v1h-1zM271 156h1v1h-1zM279 156h1v1h-1z"/>
<path d="M271 153h9v1h-9zM275 149h1v9h-1zM274 152h3v3h-3zM273 151h1v1h-1zM277 151h1v1h-1zM273 155h1v1h-1zM277 155h1v1h-1zM272 150h1v1h-1zM278 150h1v1h-1zM272 156h1v1h-1zM278 156h1v1h-1zM271 149h1v1h-1zM279 149h1v1h-1zM271 157h1v1h-1zM279 157h1v1h-1z"/>
<path d="M271 154h9v1h-9zM275 150h1v9h-1zM274 153h3v3h-3zM273 152h1v1h-1zM277 152h1v1h-1zM273 156h1v1h-1zM277 156h1v1h-1zM272 151h1v1h-1zM278 151h1v1h-1zM272 157h1v1h-1zM278 157h1v1h-1zM271 150h1v1h-1zM279 150h1v1h-1zM271 158h1v1h-1zM279 158h1v1h-1z"/>
<path d="M272 142h9v1h-9zM276 138h1v9h-1zM275 141h3v3h-3zM274 140h1v1h-1zM278 140h1v1h-1zM274 144h1v1h-1zM278 144h1v1h-1zM273 139h1v1h-1zM279 139h1v1h-1zM273 145h1v1h-1zM279 145h1v1h-1zM272 138h1v1h-1zM280 138h1v1h-1zM272 146h1v1h-1zM280 146h1v1h-1z"/>
<path d="M272 143h9v1h-9zM276 139h1v9h-1zM275 142h3v3h-3zM274 141h1v1h-1zM278 141h1v1h-1zM274 145h1v1h-1zM278 145h1v1h-1zM273 140h1v1h-1zM279 140h1v1h-1zM273 146h1v1h-1zM279 146h1v1h-1zM272 139h1v1h-1zM280 139h1v1h-1zM272 147h1v1h-1zM280 147h1v1h-1z"/>
<path d="M272 144h9v1h-9zM276 140h1v9h-1zM275 143h3v3h-3zM274 142h1v1h-1zM278 142h1v1h-1zM274 146h1v1h-1zM278 146h1v1h-1zM273 141h1v1h-1zM279 141h1v1h-1zM273 147h1v1h-1zM279 147h1v1h-1zM272 140h1v1h-1zM280 140h1v1h-1zM272 148h1v1h-1zM280 148h1v1h-1z"/>
<path d="M272 145h9v1h-9zM276 141h1v9h-1zM275 144h3v3h-3zM274 143h1v1h-1zM278 143h1v1h-1zM274 147h1v1h-1zM278 147h1v1h-1zM273 142h1v1h-1zM279 142h1v1h-1zM273 148h1v1h-1zM279 148h1v1h-1zM272 141h1v1h-1zM280 141h1v1h-1zM272 149h1v1h-1zM280 149h1v1h-1z"/>
<path d="M272 146h9v1h-9zM276 142h1v9h-1zM275 145h3v3h-3zM274 144h1v1h-1zM278 144h1v1h-1zM274 148h1v1h-1zM278 148h1v1h-1zM273 143h1v1h-1zM279 143h1v1h-1zM273 149h1v1h-1zM279 149h1v1h-1zM272 142h1v1h-1zM280 142h1v1h-1zM272 150h1v1h-1zM280 150h1v1h-1z"/>
<path d="M272 147h9v1h-9zM276 143h1v9h-1zM275 146h3v3h-3zM274 145h1v1h-1zM278 145h1v1h-1zM274 149h1v1h-1zM278 149h1v1h-1zM273 144h1v1h-1zM279 144h1v1h-1zM273 150h1v1h-1zM279 150h1v1h-1zM272 143h1v1h-1zM280 143h1v1h-1zM272 151h1v1h-1zM280 151h1v1h-1z"/>
<path d="M272 148h9v1h-9zM276 144h1v9h-1zM275 147h3v3h-3zM274 146h1v1h-1zM278 146h1v1h-1zM274 150h1v1h-1zM278 150h1v1h-1zM273 145h1v1h-1zM279 145h1v1h-1zM273 151h1v1h-1zM279 151h1v1h-1zM272 144h1v1h-1zM280 144h1v1h-1zM272 152h1v1h-1zM280 152h1v1h-1z"/>
<path d="M272 149h9v1h-9zM276 145h1v9h-1zM275 148h3v3h-3zM274 147h1v1h-1zM278 147h1v1h-1zM274 151h1v1h-1zM278 151h1v1h-1zM273 146h1v1h-1zM279 146h1v1h-1zM273 152h1v1h-1zM279 152h1v1h-1zM272 145h1v1h-1zM280 145h1v1h-1zM272 153h1v1h-1zM280 153h1v1h-1z"/>
<path d="M272 150h9v1h-9zM276 146h1v9h-1zM275 149h3v3h-3zM274 148h1v1h-1zM278 148h1v1h-1zM274 152h1v1h-1zM278 152h1v1h-1zM273 147h1v1h-1zM279 147h1v1h-1zM273 153h1v1h-1zM279 153h1v1h-1zM272 146h1v1h-1zM280 146h1v1h-1zM272 154h1v1h-1zM280 154h1v1h-1z"/>
<path d="M272 151h9v1h-9zM276 147h1v9h-1zM275 150h3v3h-3zM274 149h1v1h-1zM278 149h1v1h-1zM274 153h1v1h-1zM278 153h1v1h-1zM273 148h1v1h-1zM279 148h1v1h-1zM273 154h1v1h-1zM279 154h1v1h-1zM272 147h1v1h-1zM280 147h1v1h-1zM272 155h1v1h-1zM280 155h1v1h-1z"/>
<path d="M272 152h9v1h-9zM276 148h1v9h-1zM275 151h3v3h-3zM274 150h1v1h-1zM278 150h1v1h-1zM274 154h1v1h-1zM278 154h1v1h-1zM273 149h1v1h-1zM279 149h1v1h-1zM273 155h1v1h-1zM279 155h1v1h-1zM272 148h1v1h-1zM280 148h1v1h-1zM272 156h1v1h-1zM280 156h1v1h-1z"/>
<path d="M272 153h9v1h-9zM276 149h1v9h-1zM275 152h3v3h-3zM274 151h1v1h-1zM278 151h1v1h-1zM274 155h1v1h-1zM278 155h1v1h-1zM273 150h1v1h-1zM279 150h1v1h-1zM273 156h1v1h-1zM279 156h1v1h-1zM272 149h1v1h-1zM280 149h1v1h-1zM272 157h1v1h-1zM280 157h1v1h-1z"/>
<path d="M272 154h9v1h-9zM276 150h1v9h-1zM275 153h3v3h-3zM274 152h1v1h-1zM278 152h1v1h-1zM274 156h1v1h-1zM278 156h1v1h-1zM273 151h1v1h-1zM279 151h1v1h-1zM273 157h1v1h-1zM279 157h1v1h-1zM272 150h1v1h-1zM280 150h1v1h-1zM272 158h1v1h-1zM280 158h1v1h-1z"/>
<path d="M273 144h9v1h-9zM277 140h1v9h-1zM276 143h3v3h-3zM275 142h1v1h-1zM279 142h1v1h-1zM275 146h1v1h-1zM279 146h1v1h-1zM274 141h1v1h-1zM280 141h1v1h-1zM274 147h1v1h-1zM280 147h1v1h-1zM273 140h1v1h-1zM281 140h1v1h-1zM273 148h1v1h-1zM281 148h1v1h-1z"/>
<path d="M273 145h9v1h-9zM277 141h1v9h-1zM276 144h3v3h-3zM275 143h1v1h-1zM279 143h1v1h-1zM275 147h1v1h-1zM279 147h1v1h-1zM274 142h1v1h-1zM280 142h1v1h-1zM274 148h1v1h-1zM280 148h1v1h-1zM273 141h1v1h-1zM281 141h1v1h-1zM273 149h1v1h-1zM281 149h1v1h-1z"/>
<path d="M273 146h9v1h-9zM277 142h1v9h-1zM276 145h3v3h-3zM275 144h1v1h-1zM279 144h1v1h-1zM275 148h1v1h-1zM279 148h1v1h-1zM274 143h1v1h-1zM280 143h1v1h-1zM274 149h1v1h-1zM280 149h1v1h-1zM273 142h1v1h-1zM281 142h1v1h-1zM273 150h1v1h-1zM281 150h1v1h-1z"/>
<path d="M273 147h9v1h-9zM277 143h1v9h-1zM276 146h3v3h-3zM275 145h1v1h-1zM279 145h1v1h-1zM275 149h1v1h-1zM279 149h1v1h-1zM274 144h1v1h-1zM280 144h1v1h-1zM274 150h1v1h-1zM280 150h1v1h-1zM273 143h1v1h-1zM281 143h1v1h-1zM273 151h1v1h-1zM281 151h1v1h-1z"/>
<path d="M273 148h9v1h-9zM277 144h1v9h-1zM276 147h3v3h-3zM275 146h1v1h-1zM279 146h1v1h-1zM275 150h1v1h-1zM279 150h1v1h-1zM274 145h1v1h-1zM280 145h1v1h-1zM274 151h1v1h-1zM280 151h1v1h-1zM273 144h1v1h-1zM281 144h1v1h-1zM273 152h1v1h-1zM281 152h1v1h-1z"/>
<path d="M273 149h9v1h-9zM277 145h1v9h-1zM276 148h3v3h-3zM275 147h1v1h-1zM279 147h1v1h-1zM275 151h1v1h-1zM279 151h1v1h-1zM274 146h1v1h-1zM280 146h1v1h-1zM274 152h1v1h-1zM280 152h1v1h-1zM273 145h1v1h-1zM281 145h1v1h-1zM273 153h1v1h-1zM281 153h1v1h-1z"/>
<path d="M273 150h9v1h-9zM277 146h1v9h-1zM276 149h3v3h-3zM275 148h1v1h-1zM279 148h1v1h-1zM275 152h1v1h-1zM279 152h1v1h-1zM274 147h1v1h-1zM280 147h1v1h-1zM274 153h1v1h-1zM280 153h1v1h-1zM273 146h1v1h-1zM281 146h1v1h-1zM273 154h1v1h-1zM281 154h1v1h-1z"/>
<path d="M273 151h9v1h-9zM277 147h1v9h-1zM276 150h3v3h-3zM275 149h1v1h-1zM279 149h1v1h-1zM275 153h1v1h-1zM279 153h1v1h-1zM274 148h1v1h-1zM280 148h1v1h-1zM274 154h1v1h-1zM280 154h1v1h-1zM273 147h1v1h-1zM281 147h1v1h-1zM273 155h1v1h-1zM281 155h1v1h-1z"/>
<path d="M273 152h9v1h-9zM277 148h1v9h-1zM276 151h3v3h-3zM275 150h1v1h-1zM279 150h1v1h-1zM275 154h1v1h-1zM279 154h1v1h-1zM274 149h1v1h-1zM280 149h1v1h-1zM274 155h1v1h-1zM280 155h1v1h-1zM273 148h1v1h-1zM281 148h1v1h-1zM273 156h1v1h-1zM281 156h1v1h-1z"/>
<path d="M273 153h9v1h-9zM277 149h1v9h-1zM276 152h3v3h-3zM275 151h1v1h-1zM279 151h1v1h-1zM275 155h1v1h-1zM279 155h1v1h-1zM274 150h1v1h-1zM280 150h1v1h-1zM274 156h1v1h-1zM280 156h1v1h-1zM273 149h1v1h-1zM281 149h1v1h-1zM273 157h1v1h-1zM281 157h1v1h-1z"/>
<path d="M273 154h9v1h-9zM277 150h1v9h-1zM276 153h3v3h-3zM275 152h1v1h-1zM279 152h1v1h-1zM275 156h1v1h-1zM279 156h1v1h-1zM274 151h1v1h-1zM280 151h1v1h-1zM274 157h1v1h-1zM280 157h1v1h-1zM273 150h1v1h-1zM281 150h1v1h-1zM273 158h1v1h-1zM281 158h1v1h-1z"/>
<path d="M274 144h9v1h-9zM278 140h1v9h-1zM277 143h3v3h-3zM276 142h1v1h-1zM280 142h1v1h-1zM276 146h1v1h-1zM280 146h1v1h-1zM275 141h1v1h-1zM281 141h1v1h-1zM275 147h1v1h-1zM281 147h1v1h-1zM274 140h1v1h-1zM282 140h1v1h-1zM274 148h1v1h-1zM282 148h1v1h-1z"/>
<path d="M274 145h9v1h-9zM278 141h1v9h-1zM277 144h3v3h-3zM276 143h1v1h-1zM280 143h1v1h-1zM276 147h1v1h-1zM280 147h1v1h-1zM275 142h1v1h-1zM281 142h1v1h-1zM275 148h1v1h-1zM281 148h1v1h-1zM274 141h1v1h-1zM282 141h1v1h-1zM274 149h1v1h-1zM282 149h1v1h-1z"/>
<path d="M274 146h9v1h-9zM278 142h1v9h-1zM277 145h3v3h-3zM276 144h1v1h-1zM280 144h1v1h-1zM276 148h1v1h-1zM280 148h1v1h-1zM275 143h1v1h-1zM281 143h1v1h-1zM275 149h1v1h-1zM281 149h1v1h-1zM274 142h1v1h-1zM282 142h1v1h-1zM274 150h1v1h-1zM282 150h1v1h-1z"/>
<path d="M274 147h9v1h-9zM278 143h1v9h-1zM277 146h3v3h-3zM276 145h1v1h-1zM280 145h1v1h-1zM276 149h1v1h-1zM280 149h1v1h-1zM275 144h1v1h-1zM281 144h1v1h-1zM275 150h1v1h-1zM281 150h1v1h-1zM274 143h1v1h-1zM282 143h1v1h-1zM274 151h1v1h-1zM282 151h1v1h-1z"/>
<path d="M274 148h9v1h-9zM278 144h1v9h-1zM277 147h3v3h-3zM276 146h1v1h-1zM280 146h1v1h-1zM276 150h1v1h-1zM280 150h1v1h-1zM275 145h1v1h-1zM281 145h1v1h-1zM275 151h1v1h-1zM281 151h1v1h-1zM274 144h1v1h-1zM282 144h1v1h-1zM274 152h1v1h-1zM282 152h1v1h-1z"/>
<path d="M274 149h9v1h-9zM278 145h1v9h-1zM277 148h3v3h-3zM276 147h1v1h-1zM280 147h1v1h-1zM276 151h1v1h-1zM280 151h1v1h-1zM275 146h1v1h-1zM281 146h1v1h-1zM275 152h1v1h-1zM281 152h1v1h-1zM274 145h1v1h-1zM282 145h1v1h-1zM274 153h1v1h-1zM282 153h1v1h-1z"/>
<path d="M274 150h9v1h-9zM278 146h1v9h-1zM277 149h3v3h-3zM276 148h1v1h-1zM280 148h1v1h-1zM276 152h1v1h-1zM280 152h1v1h-1zM275 147h1v1h-1zM281 147h1v1h-1zM275 153h1v1h-1zM281 153h1v1h-1zM274 146h1v1h-1zM282 146h1v1h-1zM274 154h1v1h-1zM282 154h1v1h-1z"/>
<path d="M274 151h9v1h-9zM278 147h1v9h-1zM277 150h3v3h-3zM276 149h1v1h-1zM280 149h1v1h-1zM276 153h1v1h-1zM280 153h1v1h-1zM275 148h1v1h-1zM281 148h1v1h-1zM275 154h1v1h-1zM281 154h1v1h-1zM274 147h1v1h-1zM282 147h1v1h-1zM274 155h1v1h-1zM282 155h1v1h-1z"/>
<path d="M274 152h9v1h-9zM278 148h1v9h-1zM277 151h3v3h-3zM276 150h1v1h-1zM280 150h1v1h-1zM276 154h1v1h-1zM280 154h1v1h-1zM275 149h1v1h-1zM281 149h1v1h-1zM275 155h1v1h-1zM281 155h1v1h-1zM274 148h1v1h-1zM282 148h1v1h-1zM274 156h1v1h-1zM282 156h1v1h-1z"/>
<path d="M274 153h9v1h-9zM278 149h1v9h-1zM277 152h3v3h-3zM276 151h1v1h-1zM280 151h1v1h-1zM276 155h1v1h-1zM280 155h1v1h-1zM275 150h1v1h-1zM281 150h1v1h-1zM275 156h1v1h-1zM281 156h1v1h-1zM274 149h1v1h-1zM282 149h1v1h-1zM274 157h1v1h-1zM282 157h1v1h-1z"/>
<path d="M274 154h9v1h-9zM278 150h1v9h-1zM277 153h3v3h-3zM276 152h1v1h-1zM280 152h1v1h-1zM276 156h1v1h-1zM280 156h1v1h-1zM275 151h1v1h-1zM281 151h1v1h-1zM275 157h1v1h-1zM281 157h1v1h-1zM274 150h1v1h-1zM282 150h1v1h-1zM274 158h1v1h-1zM282 158h1v1h-1z"/>
<path d="M275 144h9v1h-9zM279 140h1v9h-1zM278 143h3v3h-3zM277 142h1v1h-1zM281 142h1v1h-1zM277 146h1v1h-1zM281 146h1v1h-1zM276 141h1v1h-1zM282 141h1v1h-1zM276 147h1v1h-1zM282 147h1v1h-1zM275 140h1v1h-1zM283 140h1v1h-1zM275 148h1v1h-1zM283 148h1v1h-1z"/>
<path d="M275 145h9v1h-9zM279 141h1v9h-1zM278 144h3v3h-3zM277 143h1v1h-1zM281 143h1v1h-1zM277 147h1v1h-1zM281 147h1v1h-1zM276 142h1v1h-1zM282 142h1v1h-1zM276 148h1v1h-1zM282 148h1v1h-1zM275 141h1v1h-1zM283 141h1v1h-1zM275 149h1v1h-1zM283 149h1v1h-1z"/>
<path d="M275 146h9v1h-9zM279 142h1v9h-1zM278 145h3v3h-3zM277 144h1v1h-1zM281 144h1v1h-1zM277 148h1v1h-1zM281 148h1v1h-1zM276 143h1v1h-1zM282 143h1v1h-1zM276 149h1v1h-1zM282 149h1v1h-1zM275 142h1v1h-1zM283 142h1v1h-1zM275 150h1v1h-1zM283 150h1v1h-1z"/>
<path d="M275 147h9v1h-9zM279 143h1v9h-1zM278 146h3v3h-3zM277 145h1v1h-1zM281 145h1v1h-1zM277 149h1v1h-1zM281 149h1v1h-1zM276 144h1v1h-1zM282 144h1v1h-1zM276 150h1v1h-1zM282 150h1v1h-1zM275 143h1v1h-1zM283 143h1v1h-1zM275 151h1v1h-1zM283 151h1v1h-1z"/>
<path d="M275 148h9v1h-9zM279 144h1v9h-1zM278 147h3v3h-3zM277 146h1v1h-1zM281 146h1v1h-1zM277 150h1v1h-1zM281 150h1v1h-1zM276 145h1v1h-1zM282 145h1v1h-1zM276 151h1v1h-1zM282 151h1v1h-1zM275 144h1v1h-1zM283 144h1v1h-1zM275 152h1v1h-1zM283 152h1v1h-1z"/>
<path d="M275 149h9v1h-9zM279 145h1v9h-1zM278 148h3v3h-3zM277 147h1v1h-1zM281 147h1v1h-1zM277 151h1v1h-1zM281 151h1v1h-1zM276 146h1v1h-1zM282 146h1v1h-1zM276 152h1v1h-1zM282 152h1v1h-1zM275 145h1v1h-1zM283 145h1v1h-1zM275 153h1v1h-1zM283 153h1v1h-1z"/>
<path d="M275 150h9v1h-9zM279 146h1v9h-1zM278 149h3v3h-3zM277 148h1v1h-1zM281 148h1v1h-1zM277 152h1v1h-1zM281 152h1v1h-1zM276 147h1v1h-1zM282 147h1v1h-1zM276 153h1v1h-1zM282 153h1v1h-1zM275 146h1v1h-1zM283 146h1v1h-1zM275 154h1v1h-1zM283 154h1v1h-1z"/>
<path d="M275 151h9v1h-9zM279 147h1v9h-1zM278 150h3v3h-3zM277 149h1v1h-1zM281 149h1v1h-1zM277 153h1v1h-1zM281 153h1v1h-1zM276 148h1v1h-1zM282 148h1v1h-1zM276 154h1v1h-1zM282 154h1v1h-1zM275 147h1v1h-1zM283 147h1v1h-1zM275 155h1v1h-1zM283 155h1v1h-1z"/>
<path d="M275 152h9v1h-9zM279 148h1v9h-1zM278 151h3v3h-3zM277 150h1v1h-1zM281 150h1v1h-1zM277 154h1v1h-1zM281 154h1v1h-1zM276 149h1v1h-1zM282 149h1v1h-1zM276 155h1v1h-1zM282 155h1v1h-1zM275 148h1v1h-1zM283 148h1v1h-1zM275 156h1v1h-1zM283 156h1v1h-1z"/>
<path d="M275 153h9v1h-9zM279 149h1v9h-1zM278 152h3v3h-3zM277 151h1v1h-1zM281 151h1v1h-1zM277 155h1v1h-1zM281 155h1v1h-1zM276 150h1v1h-1zM282 150h1v1h-1zM276 156h1v1h-1zM282 156h1v1h-1zM275 149h1v1h-1zM283 149h1v1h-1zM275 157h1v1h-1zM283 157h1v1h-1z"/>
<path d="M275 154h9v1h-9zM279 150h1v9h-1zM278 153h3v3h-3zM277 152h1v1h-1zM281 152h1v1h-1zM277 156h1v1h-1zM281 156h1v1h-1zM276 151h1v1h-1zM282 151h1v1h-1zM276 157h1v1h-1zM282 157h1v1h-1zM275 150h1v1h-1zM283 150h1v1h-1zM275 158h1v1h-1zM283 158h1v1h-1z"/>
<path d="M272 141h9v1h-9zM276 137h1v9h-1zM275 140h3v3h-3zM274 139h1v1h-1zM278 139h1v1h-1zM274 143h1v1h-1zM278 143h1v1h-1zM273 138h1v1h-1zM279 138h1v1h-1zM273 144h1v1h-1zM279 144h1v1h-1zM272 137h1v1h-1zM280 137h1v1h-1zM272 145h1v1h-1zM280 145h1v1h-1z"/>
<path d="M281 145h9v1h-9zM285 141h1v9h-1zM284 144h3v3h-3zM283 143h1v1h-1zM287 143h1v1h-1zM283 147h1v1h-1zM287 147h1v1h-1zM282 142h1v1h-1zM288 142h1v1h-1zM282 148h1v1h-1zM288 148h1v1h-1zM281 141h1v1h-1zM289 141h1v1h-1zM281 149h1v1h-1zM289 149h1v1h-1z"/>
<path d="M281 143h9v1h-9zM285 139h1v9h-1zM284 142h3v3h-3zM283 141h1v1h-1zM287 141h1v1h-1zM283 145h1v1h-1zM287 145h1v1h-1zM282 140h1v1h-1zM288 140h1v1h-1zM282 146h1v1h-1zM288 146h1v1h-1zM281 139h1v1h-1zM289 139h1v1h-1zM281 147h1v1h-1zM289 147h1v1h-1z"/>
<path d="M289 143h9v1h-9zM293 139h1v9h-1zM292 142h3v3h-3zM291 141h1v1h-1zM295 141h1v1h-1zM291 145h1v1h-1zM295 145h1v1h-1zM290 140h1v1h-1zM296 140h1v1h-1zM290 146h1v1h-1zM296 146h1v1h-1zM289 139h1v1h-1zM297 139h1v1h-1zM289 147h1v1h-1zM297 147h1v1h-1z"/>
<path d="M265 173h9v1h-9zM269 169h1v9h-1zM268 172h3v3h-3zM267 171h1v1h-1zM271 171h1v1h-1zM267 175h1v1h-1zM271 175h1v1h-1zM266 170h1v1h-1zM272 170h1v1h-1zM266 176h1v1h-1zM272 176h1v1h-1zM265 169h1v1h-1zM273 169h1v1h-1zM265 177h1v1h-1zM273 177h1v1h-1z"/>
<path d="M265 169h9v1h-9zM269 165h1v9h-1zM268 168h3v3h-3zM267 167h1v1h-1zM271 167h1v1h-1zM267 171h1v1h-1zM271 171h1v1h-1zM266 166h1v1h-1zM272 166h1v1h-1zM266 172h1v1h-1zM272 172h1v1h-1zM265 165h1v1h-1zM273 165h1v1h-1zM265 173h1v1h-1zM273 173h1v1h-1z"/>
<path d="M264 165h9v1h-9zM268 161h1v9h-1zM267 164h3v3h-3zM266 163h1v1h-1zM270 163h1v1h-1zM266 167h1v1h-1zM270 167h1v1h-1zM265 162h1v1h-1zM271 162h1v1h-1zM265 168h1v1h-1zM271 168h1v1h-1zM264 161h1v1h-1zM272 161h1v1h-1zM264 169h1v1h-1zM272 169h1v1h-1z"/>
<path d="M265 162h9v1h-9zM269 158h1v9h-1zM268 161h3v3h-3zM267 160h1v1h-1zM271 160h1v1h-1zM267 164h1v1h-1zM271 164h1v1h-1zM266 159h1v1h-1zM272 159h1v1h-1zM266 165h1v1h-1zM272 165h1v1h-1zM265 158h1v1h-1zM273 158h1v1h-1zM265 166h1v1h-1zM273 166h1v1h-1z"/>
<path d="M266 159h9v1h-9zM270 155h1v9h-1zM269 158h3v3h-3zM268 157h1v1h-1zM272 157h1v1h-1zM268 161h1v1h-1zM272 161h1v1h-1zM267 156h1v1h-1zM273 156h1v1h-1zM267 162h1v1h-1zM273 162h1v1h-1zM266 155h1v1h-1zM274 155h1v1h-1zM266 163h1v1h-1zM274 163h1v1h-1z"/>
<path d="M264 157h9v1h-9zM268 153h1v9h-1zM267 156h3v3h-3zM266 155h1v1h-1zM270 155h1v1h-1zM266 159h1v1h-1zM270 159h1v1h-1zM265 154h1v1h-1zM271 154h1v1h-1zM265 160h1v1h-1zM271 160h1v1h-1zM264 153h1v1h-1zM272 153h1v1h-1zM264 161h1v1h-1zM272 161h1v1h-1z"/>
<path d="M266 167h9v1h-9zM270 163h1v9h-1zM269 166h3v3h-3zM268 165h1v1h-1zM272 165h1v1h-1zM268 169h1v1h-1zM272 169h1v1h-1zM267 164h1v1h-1zM273 164h1v1h-1zM267 170h1v1h-1zM273 170h1v1h-1zM266 163h1v1h-1zM274 163h1v1h-1zM266 171h1v1h-1zM274 171h1v1h-1z"/>
<path d="M264 171h9v1h-9zM268 167h1v9h-1zM267 170h3v3h-3zM266 169h1v1h-1zM270 169h1v1h-1zM266 173h1v1h-1zM270 173h1v1h-1zM265 168h1v1h-1zM271 168h1v1h-1zM265 174h1v1h-1zM271 174h1v1h-1zM264 167h1v1h-1zM272 167h1v1h-1zM264 175h1v1h-1zM272 175h1v1h-1z"/>
<path d="M278 171h9v1h-9zM282 167h1v9h-1zM281 170h3v3h-3zM280 169h1v1h-1zM284 169h1v1h-1zM280 173h1v1h-1zM284 173h1v1h-1zM279 168h1v1h-1zM285 168h1v1h-1zM279 174h1v1h-1zM285 174h1v1h-1zM278 167h1v1h-1zM286 167h1v1h-1zM278 175h1v1h-1zM286 175h1v1h-1z"/>
<path d="M282 171h9v1h-9zM286 167h1v9h-1zM285 170h3v3h-3zM284 169h1v1h-1zM288 169h1v1h-1zM284 173h1v1h-1zM288 173h1v1h-1zM283 168h1v1h-1zM289 168h1v1h-1zM283 174h1v1h-1zM289 174h1v1h-1zM282 167h1v1h-1zM290 167h1v1h-1zM282 175h1v1h-1zM290 175h1v1h-1z"/>
<path d="M280 167h9v1h-9zM284 163h1v9h-1zM283 166h3v3h-3zM282 165h1v1h-1zM286 165h1v1h-1zM282 169h1v1h-1zM286 169h1v1h-1zM281 164h1v1h-1zM287 164h1v1h-1zM281 170h1v1h-1zM287 170h1v1h-1zM280 163h1v1h-1zM288 163h1v1h-1zM280 171h1v1h-1zM288 171h1v1h-1z"/>
<path d="M279 163h9v1h-9zM283 159h1v9h-1zM282 162h3v3h-3zM281 161h1v1h-1zM285 161h1v1h-1zM281 165h1v1h-1zM285 165h1v1h-1zM280 160h1v1h-1zM286 160h1v1h-1zM280 166h1v1h-1zM286 166h1v1h-1zM279 159h1v1h-1zM287 159h1v1h-1zM279 167h1v1h-1zM287 167h1v1h-1z"/>
<path d="M281 160h9v1h-9zM285 156h1v9h-1zM284 159h3v3h-3zM283 158h1v1h-1zM287 158h1v1h-1zM283 162h1v1h-1zM287 162h1v1h-1zM282 157h1v1h-1zM288 157h1v1h-1zM282 163h1v1h-1zM288 163h1v1h-1zM281 156h1v1h-1zM289 156h1v1h-1zM281 164h1v1h-1zM289 164h1v1h-1z"/>
<path d="M280 157h9v1h-9zM284 153h1v9h-1zM283 156h3v3h-3zM282 155h1v1h-1zM286 155h1v1h-1zM282 159h1v1h-1zM286 159h1v1h-1zM281 154h1v1h-1zM287 154h1v1h-1zM281 160h1v1h-1zM287 160h1v1h-1zM280 153h1v1h-1zM288 153h1v1h-1zM280 161h1v1h-1zM288 161h1v1h-1z"/>
<path d="M278 159h9v1h-9zM282 155h1v9h-1zM281 158h3v3h-3zM280 157h1v1h-1zM284 157h1v1h-1zM280 161h1v1h-1zM284 161h1v1h-1zM279 156h1v1h-1zM285 156h1v1h-1zM279 162h1v1h-1zM285 162h1v1h-1zM278 155h1v1h-1zM286 155h1v1h-1zM278 163h1v1h-1zM286 163h1v1h-1z"/>
<path d="M282 165h9v1h-9zM286 161h1v9h-1zM285 164h3v3h-3zM284 163h1v1h-1zM288 163h1v1h-1zM284 167h1v1h-1zM288 167h1v1h-1zM283 162h1v1h-1zM289 162h1v1h-1zM283 168h1v1h-1zM289 168h1v1h-1zM282 161h1v1h-1zM290 161h1v1h-1zM282 169h1v1h-1zM290 169h1v1h-1z"/>
<path d="M279 155h9v1h-9zM283 151h1v9h-1zM282 154h3v3h-3zM281 153h1v1h-1zM285 153h1v1h-1zM281 157h1v1h-1zM285 157h1v1h-1zM280 152h1v1h-1zM286 152h1v1h-1zM280 158h1v1h-1zM286 158h1v1h-1zM279 151h1v1h-1zM287 151h1v1h-1zM279 159h1v1h-1zM287 159h1v1h-1z"/>
<path d="M281 168h9v1h-9zM285 164h1v9h-1zM284 167h3v3h-3zM283 166h1v1h-1zM287 166h1v1h-1zM283 170h1v1h-1zM287 170h1v1h-1zM282 165h1v1h-1zM288 165h1v1h-1zM282 171h1v1h-1zM288 171h1v1h-1zM281 164h1v1h-1zM289 164h1v1h-1zM281 172h1v1h-1zM289 172h1v1h-1z"/>
</g>
<g class="g">
<path d="M282 149h9v1h-9zM286 145h1v9h-1zM285 148h3v3h-3zM284 147h1v1h-1zM288 147h1v1h-1zM284 151h1v1h-1zM288 151h1v1h-1zM283 146h1v1h-1zM289 146h1v1h-1zM283 152h1v1h-1zM289 152h1v1h-1zM282 145h1v1h-1zM290 145h1v1h-1zM282 153h1v1h-1zM290 153h1v1h-1z"/>
<path d="M282 150h9v1h-9zM286 146h1v9h-1zM285 149h3v3h-3zM284 148h1v1h-1zM288 148h1v1h-1zM284 152h1v1h-1zM288 152h1v1h-1zM283 147h1v1h-1zM289 147h1v1h-1zM283 153h1v1h-1zM289 153h1v1h-1zM282 146h1v1h-1zM290 146h1v1h-1zM282 154h1v1h-1zM290 154h1v1h-1z"/>
<path d="M282 151h9v1h-9zM286 147h1v9h-1zM285 150h3v3h-3zM284 149h1v1h-1zM288 149h1v1h-1zM284 153h1v1h-1zM288 153h1v1h-1zM283 148h1v1h-1zM289 148h1v1h-1zM283 154h1v1h-1zM289 154h1v1h-1zM282 147h1v1h-1zM290 147h1v1h-1zM282 155h1v1h-1zM290 155h1v1h-1z"/>
<path d="M282 152h9v1h-9zM286 148h1v9h-1zM285 151h3v3h-3zM284 150h1v1h-1zM288 150h1v1h-1zM284 154h1v1h-1zM288 154h1v1h-1zM283 149h1v1h-1zM289 149h1v1h-1zM283 155h1v1h-1zM289 155h1v1h-1zM282 148h1v1h-1zM290 148h1v1h-1zM282 156h1v1h-1zM290 156h1v1h-1z"/>
<path d="M283 148h9v1h-9zM287 144h1v9h-1zM286 147h3v3h-3zM285 146h1v1h-1zM289 146h1v1h-1zM285 150h1v1h-1zM289 150h1v1h-1zM284 145h1v1h-1zM290 145h1v1h-1zM284 151h1v1h-1zM290 151h1v1h-1zM283 144h1v1h-1zM291 144h1v1h-1zM283 152h1v1h-1zM291 152h1v1h-1z"/>
<path d="M283 149h9v1h-9zM287 145h1v9h-1zM286 148h3v3h-3zM285 147h1v1h-1zM289 147h1v1h-1zM285 151h1v1h-1zM289 151h1v1h-1zM284 146h1v1h-1zM290 146h1v1h-1zM284 152h1v1h-1zM290 152h1v1h-1zM283 145h1v1h-1zM291 145h1v1h-1zM283 153h1v1h-1zM291 153h1v1h-1z"/>
<path d="M283 150h9v1h-9zM287 146h1v9h-1zM286 149h3v3h-3zM285 148h1v1h-1zM289 148h1v1h-1zM285 152h1v1h-1zM289 152h1v1h-1zM284 147h1v1h-1zM290 147h1v1h-1zM284 153h1v1h-1zM290 153h1v1h-1zM283 146h1v1h-1zM291 146h1v1h-1zM283 154h1v1h-1zM291 154h1v1h-1z"/>
<path d="M283 151h9v1h-9zM287 147h1v9h-1zM286 150h3v3h-3zM285 149h1v1h-1zM289 149h1v1h-1zM285 153h1v1h-1zM289 153h1v1h-1zM284 148h1v1h-1zM290 148h1v1h-1zM284 154h1v1h-1zM290 154h1v1h-1zM283 147h1v1h-1zM291 147h1v1h-1zM283 155h1v1h-1zM291 155h1v1h-1z"/>
<path d="M283 152h9v1h-9zM287 148h1v9h-1zM286 151h3v3h-3zM285 150h1v1h-1zM289 150h1v1h-1zM285 154h1v1h-1zM289 154h1v1h-1zM284 149h1v1h-1zM290 149h1v1h-1zM284 155h1v1h-1zM290 155h1v1h-1zM283 148h1v1h-1zM291 148h1v1h-1zM283 156h1v1h-1zM291 156h1v1h-1z"/>
<path d="M283 153h9v1h-9zM287 149h1v9h-1zM286 152h3v3h-3zM285 151h1v1h-1zM289 151h1v1h-1zM285 155h1v1h-1zM289 155h1v1h-1zM284 150h1v1h-1zM290 150h1v1h-1zM284 156h1v1h-1zM290 156h1v1h-1zM283 149h1v1h-1zM291 149h1v1h-1zM283 157h1v1h-1zM291 157h1v1h-1z"/>
<path d="M284 148h9v1h-9zM288 144h1v9h-1zM287 147h3v3h-3zM286 146h1v1h-1zM290 146h1v1h-1zM286 150h1v1h-1zM290 150h1v1h-1zM285 145h1v1h-1zM291 145h1v1h-1zM285 151h1v1h-1zM291 151h1v1h-1zM284 144h1v1h-1zM292 144h1v1h-1zM284 152h1v1h-1zM292 152h1v1h-1z"/>
<path d="M284 149h9v1h-9zM288 145h1v9h-1zM287 148h3v3h-3zM286 147h1v1h-1zM290 147h1v1h-1zM286 151h1v1h-1zM290 151h1v1h-1zM285 146h1v1h-1zM291 146h1v1h-1zM285 152h1v1h-1zM291 152h1v1h-1zM284 145h1v1h-1zM292 145h1v1h-1zM284 153h1v1h-1zM292 153h1v1h-1z"/>
<path d="M284 150h9v1h-9zM288 146h1v9h-1zM287 149h3v3h-3zM286 148h1v1h-1zM290 148h1v1h-1zM286 152h1v1h-1zM290 152h1v1h-1zM285 147h1v1h-1zM291 147h1v1h-1zM285 153h1v1h-1zM291 153h1v1h-1zM284 146h1v1h-1zM292 146h1v1h-1zM284 154h1v1h-1zM292 154h1v1h-1z"/>
<path d="M284 151h9v1h-9zM288 147h1v9h-1zM287 150h3v3h-3zM286 149h1v1h-1zM290 149h1v1h-1zM286 153h1v1h-1zM290 153h1v1h-1zM285 148h1v1h-1zM291 148h1v1h-1zM285 154h1v1h-1zM291 154h1v1h-1zM284 147h1v1h-1zM292 147h1v1h-1zM284 155h1v1h-1zM292 155h1v1h-1z"/>
<path d="M284 152h9v1h-9zM288 148h1v9h-1zM287 151h3v3h-3zM286 150h1v1h-1zM290 150h1v1h-1zM286 154h1v1h-1zM290 154h1v1h-1zM285 149h1v1h-1zM291 149h1v1h-1zM285 155h1v1h-1zM291 155h1v1h-1zM284 148h1v1h-1zM292 148h1v1h-1zM284 156h1v1h-1zM292 156h1v1h-1z"/>
<path d="M284 153h9v1h-9zM288 149h1v9h-1zM287 152h3v3h-3zM286 151h1v1h-1zM290 151h1v1h-1zM286 155h1v1h-1zM290 155h1v1h-1zM285 150h1v1h-1zM291 150h1v1h-1zM285 156h1v1h-1zM291 156h1v1h-1zM284 149h1v1h-1zM292 149h1v1h-1zM284 157h1v1h-1zM292 157h1v1h-1z"/>
<path d="M285 148h9v1h-9zM289 144h1v9h-1zM288 147h3v3h-3zM287 146h1v1h-1zM291 146h1v1h-1zM287 150h1v1h-1zM291 150h1v1h-1zM286 145h1v1h-1zM292 145h1v1h-1zM286 151h1v1h-1zM292 151h1v1h-1zM285 144h1v1h-1zM293 144h1v1h-1zM285 152h1v1h-1zM293 152h1v1h-1z"/>
<path d="M285 149h9v1h-9zM289 145h1v9h-1zM288 148h3v3h-3zM287 147h1v1h-1zM291 147h1v1h-1zM287 151h1v1h-1zM291 151h1v1h-1zM286 146h1v1h-1zM292 146h1v1h-1zM286 152h1v1h-1zM292 152h1v1h-1zM285 145h1v1h-1zM293 145h1v1h-1zM285 153h1v1h-1zM293 153h1v1h-1z"/>
<path d="M285 150h9v1h-9zM289 146h1v9h-1zM288 149h3v3h-3zM287 148h1v1h-1zM291 148h1v1h-1zM287 152h1v1h-1zM291 152h1v1h-1zM286 147h1v1h-1zM292 147h1v1h-1zM286 153h1v1h-1zM292 153h1v1h-1zM285 146h1v1h-1zM293 146h1v1h-1zM285 154h1v1h-1zM293 154h1v1h-1z"/>
<path d="M285 151h9v1h-9zM289 147h1v9h-1zM288 150h3v3h-3zM287 149h1v1h-1zM291 149h1v1h-1zM287 153h1v1h-1zM291 153h1v1h-1zM286 148h1v1h-1zM292 148h1v1h-1zM286 154h1v1h-1zM292 154h1v1h-1zM285 147h1v1h-1zM293 147h1v1h-1zM285 155h1v1h-1zM293 155h1v1h-1z"/>
<path d="M285 152h9v1h-9zM289 148h1v9h-1zM288 151h3v3h-3zM287 150h1v1h-1zM291 150h1v1h-1zM287 154h1v1h-1zM291 154h1v1h-1zM286 149h1v1h-1zM292 149h1v1h-1zM286 155h1v1h-1zM292 155h1v1h-1zM285 148h1v1h-1zM293 148h1v1h-1zM285 156h1v1h-1zM293 156h1v1h-1z"/>
<path d="M285 153h9v1h-9zM289 149h1v9h-1zM288 152h3v3h-3zM287 151h1v1h-1zM291 151h1v1h-1zM287 155h1v1h-1zM291 155h1v1h-1zM286 150h1v1h-1zM292 150h1v1h-1zM286 156h1v1h-1zM292 156h1v1h-1zM285 149h1v1h-1zM293 149h1v1h-1zM285 157h1v1h-1zM293 157h1v1h-1z"/>
<path d="M286 149h9v1h-9zM290 145h1v9h-1zM289 148h3v3h-3zM288 147h1v1h-1zM292 147h1v1h-1zM288 151h1v1h-1zM292 151h1v1h-1zM287 146h1v1h-1zM293 146h1v1h-1zM287 152h1v1h-1zM293 152h1v1h-1zM286 145h1v1h-1zM294 145h1v1h-1zM286 153h1v1h-1zM294 153h1v1h-1z"/>
<path d="M286 150h9v1h-9zM290 146h1v9h-1zM289 149h3v3h-3zM288 148h1v1h-1zM292 148h1v1h-1zM288 152h1v1h-1zM292 152h1v1h-1zM287 147h1v1h-1zM293 147h1v1h-1zM287 153h1v1h-1zM293 153h1v1h-1zM286 146h1v1h-1zM294 146h1v1h-1zM286 154h1v1h-1zM294 154h1v1h-1z"/>
<path d="M286 151h9v1h-9zM290 147h1v9h-1zM289 150h3v3h-3zM288 149h1v1h-1zM292 149h1v1h-1zM288 153h1v1h-1zM292 153h1v1h-1zM287 148h1v1h-1zM293 148h1v1h-1zM287 154h1v1h-1zM293 154h1v1h-1zM286 147h1v1h-1zM294 147h1v1h-1zM286 155h1v1h-1zM294 155h1v1h-1z"/>
<path d="M286 152h9v1h-9zM290 148h1v9h-1zM289 151h3v3h-3zM288 150h1v1h-1zM292 150h1v1h-1zM288 154h1v1h-1zM292 154h1v1h-1zM287 149h1v1h-1zM293 149h1v1h-1zM287 155h1v1h-1zM293 155h1v1h-1zM286 148h1v1h-1zM294 148h1v1h-1zM286 156h1v1h-1zM294 156h1v1h-1z"/>
<path d="M280 147h9v1h-9zM284 143h1v9h-1zM283 146h3v3h-3zM282 145h1v1h-1zM286 145h1v1h-1zM282 149h1v1h-1zM286 149h1v1h-1zM281 144h1v1h-1zM287 144h1v1h-1zM281 150h1v1h-1zM287 150h1v1h-1zM280 143h1v1h-1zM288 143h1v1h-1zM280 151h1v1h-1zM288 151h1v1h-1z"/>
<path d="M284 154h9v1h-9zM288 150h1v9h-1zM287 153h3v3h-3zM286 152h1v1h-1zM290 152h1v1h-1zM286 156h1v1h-1zM290 156h1v1h-1zM285 151h1v1h-1zM291 151h1v1h-1zM285 157h1v1h-1zM291 157h1v1h-1zM284 150h1v1h-1zM292 150h1v1h-1zM284 158h1v1h-1zM292 158h1v1h-1z"/>
<path d="M285 154h9v1h-9zM289 150h1v9h-1zM288 153h3v3h-3zM287 152h1v1h-1zM291 152h1v1h-1zM287 156h1v1h-1zM291 156h1v1h-1zM286 151h1v1h-1zM292 151h1v1h-1zM286 157h1v1h-1zM292 157h1v1h-1zM285 150h1v1h-1zM293 150h1v1h-1zM285 158h1v1h-1zM293 158h1v1h-1z"/>
<path d="M283 147h9v1h-9zM287 143h1v9h-1zM286 146h3v3h-3zM285 145h1v1h-1zM289 145h1v1h-1zM285 149h1v1h-1zM289 149h1v1h-1zM284 144h1v1h-1zM290 144h1v1h-1zM284 150h1v1h-1zM290 150h1v1h-1zM283 143h1v1h-1zM291 143h1v1h-1zM283 151h1v1h-1zM291 151h1v1h-1z"/>
<path d="M286 147h9v1h-9zM290 143h1v9h-1zM289 146h3v3h-3zM288 145h1v1h-1zM292 145h1v1h-1zM288 149h1v1h-1zM292 149h1v1h-1zM287 144h1v1h-1zM293 144h1v1h-1zM287 150h1v1h-1zM293 150h1v1h-1zM286 143h1v1h-1zM294 143h1v1h-1zM286 151h1v1h-1zM294 151h1v1h-1z"/>
<path d="M288 148h9v1h-9zM292 144h1v9h-1zM291 147h3v3h-3zM290 146h1v1h-1zM294 146h1v1h-1zM290 150h1v1h-1zM294 150h1v1h-1zM289 145h1v1h-1zM295 145h1v1h-1zM289 151h1v1h-1zM295 151h1v1h-1zM288 144h1v1h-1zM296 144h1v1h-1zM288 152h1v1h-1zM296 152h1v1h-1z"/>
<path d="M289 147h9v1h-9zM293 143h1v9h-1zM292 146h3v3h-3zM291 145h1v1h-1zM295 145h1v1h-1zM291 149h1v1h-1zM295 149h1v1h-1zM290 144h1v1h-1zM296 144h1v1h-1zM290 150h1v1h-1zM296 150h1v1h-1zM289 143h1v1h-1zM297 143h1v1h-1zM289 151h1v1h-1zM297 151h1v1h-1z"/>
<path d="M290 146h9v1h-9zM294 142h1v9h-1zM293 145h3v3h-3zM292 144h1v1h-1zM296 144h1v1h-1zM292 148h1v1h-1zM296 148h1v1h-1zM291 143h1v1h-1zM297 143h1v1h-1zM291 149h1v1h-1zM297 149h1v1h-1zM290 142h1v1h-1zM298 142h1v1h-1zM290 150h1v1h-1zM298 150h1v1h-1z"/>
<path d="M291 146h9v1h-9zM295 142h1v9h-1zM294 145h3v3h-3zM293 144h1v1h-1zM297 144h1v1h-1zM293 148h1v1h-1zM297 148h1v1h-1zM292 143h1v1h-1zM298 143h1v1h-1zM292 149h1v1h-1zM298 149h1v1h-1zM291 142h1v1h-1zM299 142h1v1h-1zM291 150h1v1h-1zM299 150h1v1h-1z"/>
<path d="M292 145h9v1h-9zM296 141h1v9h-1zM295 144h3v3h-3zM294 143h1v1h-1zM298 143h1v1h-1zM294 147h1v1h-1zM298 147h1v1h-1zM293 142h1v1h-1zM299 142h1v1h-1zM293 148h1v1h-1zM299 148h1v1h-1zM292 141h1v1h-1zM300 141h1v1h-1zM292 149h1v1h-1zM300 149h1v1h-1z"/>
<path d="M293 145h9v1h-9zM297 141h1v9h-1zM296 144h3v3h-3zM295 143h1v1h-1zM299 143h1v1h-1zM295 147h1v1h-1zM299 147h1v1h-1zM294 142h1v1h-1zM300 142h1v1h-1zM294 148h1v1h-1zM300 148h1v1h-1zM293 141h1v1h-1zM301 141h1v1h-1zM293 149h1v1h-1zM301 149h1v1h-1z"/>
<path d="M294 144h9v1h-9zM298 140h1v9h-1zM297 143h3v3h-3zM296 142h1v1h-1zM300 142h1v1h-1zM296 146h1v1h-1zM300 146h1v1h-1zM295 141h1v1h-1zM301 141h1v1h-1zM295 147h1v1h-1zM301 147h1v1h-1zM294 140h1v1h-1zM302 140h1v1h-1zM294 148h1v1h-1zM302 148h1v1h-1z"/>
<path d="M295 144h9v1h-9zM299 140h1v9h-1zM298 143h3v3h-3zM297 142h1v1h-1zM301 142h1v1h-1zM297 146h1v1h-1zM301 146h1v1h-1zM296 141h1v1h-1zM302 141h1v1h-1zM296 147h1v1h-1zM302 147h1v1h-1zM295 140h1v1h-1zM303 140h1v1h-1zM295 148h1v1h-1zM303 148h1v1h-1z"/>
<path d="M296 143h9v1h-9zM300 139h1v9h-1zM299 142h3v3h-3zM298 141h1v1h-1zM302 141h1v1h-1zM298 145h1v1h-1zM302 145h1v1h-1zM297 140h1v1h-1zM303 140h1v1h-1zM297 146h1v1h-1zM303 146h1v1h-1zM296 139h1v1h-1zM304 139h1v1h-1zM296 147h1v1h-1zM304 147h1v1h-1z"/>
<path d="M291 148h9v1h-9zM295 144h1v9h-1zM294 147h3v3h-3zM293 146h1v1h-1zM297 146h1v1h-1zM293 150h1v1h-1zM297 150h1v1h-1zM292 145h1v1h-1zM298 145h1v1h-1zM292 151h1v1h-1zM298 151h1v1h-1zM291 144h1v1h-1zM299 144h1v1h-1zM291 152h1v1h-1zM299 152h1v1h-1z"/>
<path d="M293 147h9v1h-9zM297 143h1v9h-1zM296 146h3v3h-3zM295 145h1v1h-1zM299 145h1v1h-1zM295 149h1v1h-1zM299 149h1v1h-1zM294 144h1v1h-1zM300 144h1v1h-1zM294 150h1v1h-1zM300 150h1v1h-1zM293 143h1v1h-1zM301 143h1v1h-1zM293 151h1v1h-1zM301 151h1v1h-1z"/>
<path d="M297 141h9v1h-9zM301 137h1v9h-1zM300 140h3v3h-3zM299 139h1v1h-1zM303 139h1v1h-1zM299 143h1v1h-1zM303 143h1v1h-1zM298 138h1v1h-1zM304 138h1v1h-1zM298 144h1v1h-1zM304 144h1v1h-1zM297 137h1v1h-1zM305 137h1v1h-1zM297 145h1v1h-1zM305 145h1v1h-1z"/>
<path d="M298 142h9v1h-9zM302 138h1v9h-1zM301 141h3v3h-3zM300 140h1v1h-1zM304 140h1v1h-1zM300 144h1v1h-1zM304 144h1v1h-1zM299 139h1v1h-1zM305 139h1v1h-1zM299 145h1v1h-1zM305 145h1v1h-1zM298 138h1v1h-1zM306 138h1v1h-1zM298 146h1v1h-1zM306 146h1v1h-1z"/>
<path d="M299 142h9v1h-9zM303 138h1v9h-1zM302 141h3v3h-3zM301 140h1v1h-1zM305 140h1v1h-1zM301 144h1v1h-1zM305 144h1v1h-1zM300 139h1v1h-1zM306 139h1v1h-1zM300 145h1v1h-1zM306 145h1v1h-1zM299 138h1v1h-1zM307 138h1v1h-1zM299 146h1v1h-1zM307 146h1v1h-1z"/>
<path d="M300 141h9v1h-9zM304 137h1v9h-1zM303 140h3v3h-3zM302 139h1v1h-1zM306 139h1v1h-1zM302 143h1v1h-1zM306 143h1v1h-1zM301 138h1v1h-1zM307 138h1v1h-1zM301 144h1v1h-1zM307 144h1v1h-1zM300 137h1v1h-1zM308 137h1v1h-1zM300 145h1v1h-1zM308 145h1v1h-1z"/>
<path d="M301 143h9v1h-9zM305 139h1v9h-1zM304 142h3v3h-3zM303 141h1v1h-1zM307 141h1v1h-1zM303 145h1v1h-1zM307 145h1v1h-1zM302 140h1v1h-1zM308 140h1v1h-1zM302 146h1v1h-1zM308 146h1v1h-1zM301 139h1v1h-1zM309 139h1v1h-1zM301 147h1v1h-1zM309 147h1v1h-1z"/>
<path d="M302 142h9v1h-9zM306 138h1v9h-1zM305 141h3v3h-3zM304 140h1v1h-1zM308 140h1v1h-1zM304 144h1v1h-1zM308 144h1v1h-1zM303 139h1v1h-1zM309 139h1v1h-1zM303 145h1v1h-1zM309 145h1v1h-1zM302 138h1v1h-1zM310 138h1v1h-1zM302 146h1v1h-1zM310 146h1v1h-1z"/>
<path d="M303 141h9v1h-9zM307 137h1v9h-1zM306 140h3v3h-3zM305 139h1v1h-1zM309 139h1v1h-1zM305 143h1v1h-1zM309 143h1v1h-1zM304 138h1v1h-1zM310 138h1v1h-1zM304 144h1v1h-1zM310 144h1v1h-1zM303 137h1v1h-1zM311 137h1v1h-1zM303 145h1v1h-1zM311 145h1v1h-1z"/>
<path d="M304 141h9v1h-9zM308 137h1v9h-1zM307 140h3v3h-3zM306 139h1v1h-1zM310 139h1v1h-1zM306 143h1v1h-1zM310 143h1v1h-1zM305 138h1v1h-1zM311 138h1v1h-1zM305 144h1v1h-1zM311 144h1v1h-1zM304 137h1v1h-1zM312 137h1v1h-1zM304 145h1v1h-1zM312 145h1v1h-1z"/>
<path d="M305 142h9v1h-9zM309 138h1v9h-1zM308 141h3v3h-3zM307 140h1v1h-1zM311 140h1v1h-1zM307 144h1v1h-1zM311 144h1v1h-1zM306 139h1v1h-1zM312 139h1v1h-1zM306 145h1v1h-1zM312 145h1v1h-1zM305 138h1v1h-1zM313 138h1v1h-1zM305 146h1v1h-1zM313 146h1v1h-1z"/>
<path d="M306 142h9v1h-9zM310 138h1v9h-1zM309 141h3v3h-3zM308 140h1v1h-1zM312 140h1v1h-1zM308 144h1v1h-1zM312 144h1v1h-1zM307 139h1v1h-1zM313 139h1v1h-1zM307 145h1v1h-1zM313 145h1v1h-1zM306 138h1v1h-1zM314 138h1v1h-1zM306 146h1v1h-1zM314 146h1v1h-1z"/>
<path d="M307 143h9v1h-9zM311 139h1v9h-1zM310 142h3v3h-3zM309 141h1v1h-1zM313 141h1v1h-1zM309 145h1v1h-1zM313 145h1v1h-1zM308 140h1v1h-1zM314 140h1v1h-1zM308 146h1v1h-1zM314 146h1v1h-1zM307 139h1v1h-1zM315 139h1v1h-1zM307 147h1v1h-1zM315 147h1v1h-1z"/>
<path d="M309 141h9v1h-9zM313 137h1v9h-1zM312 140h3v3h-3zM311 139h1v1h-1zM315 139h1v1h-1zM311 143h1v1h-1zM315 143h1v1h-1zM310 138h1v1h-1zM316 138h1v1h-1zM310 144h1v1h-1zM316 144h1v1h-1zM309 137h1v1h-1zM317 137h1v1h-1zM309 145h1v1h-1zM317 145h1v1h-1z"/>
<path d="M310 143h9v1h-9zM314 139h1v9h-1zM313 142h3v3h-3zM312 141h1v1h-1zM316 141h1v1h-1zM312 145h1v1h-1zM316 145h1v1h-1zM311 140h1v1h-1zM317 140h1v1h-1zM311 146h1v1h-1zM317 146h1v1h-1zM310 139h1v1h-1zM318 139h1v1h-1zM310 147h1v1h-1zM318 147h1v1h-1z"/>
<path d="M311 142h9v1h-9zM315 138h1v9h-1zM314 141h3v3h-3zM313 140h1v1h-1zM317 140h1v1h-1zM313 144h1v1h-1zM317 144h1v1h-1zM312 139h1v1h-1zM318 139h1v1h-1zM312 145h1v1h-1zM318 145h1v1h-1zM311 138h1v1h-1zM319 138h1v1h-1zM311 146h1v1h-1zM319 146h1v1h-1z"/>
<path d="M313 143h9v1h-9zM317 139h1v9h-1zM316 142h3v3h-3zM315 141h1v1h-1zM319 141h1v1h-1zM315 145h1v1h-1zM319 145h1v1h-1zM314 140h1v1h-1zM320 140h1v1h-1zM314 146h1v1h-1zM320 146h1v1h-1zM313 139h1v1h-1zM321 139h1v1h-1zM313 147h1v1h-1zM321 147h1v1h-1z"/>
<path d="M314 143h9v1h-9zM318 139h1v9h-1zM317 142h3v3h-3zM316 141h1v1h-1zM320 141h1v1h-1zM316 145h1v1h-1zM320 145h1v1h-1zM315 140h1v1h-1zM321 140h1v1h-1zM315 146h1v1h-1zM321 146h1v1h-1zM314 139h1v1h-1zM322 139h1v1h-1zM314 147h1v1h-1zM322 147h1v1h-1z"/>
<path d="M315 141h9v1h-9zM319 137h1v9h-1zM318 140h3v3h-3zM317 139h1v1h-1zM321 139h1v1h-1zM317 143h1v1h-1zM321 143h1v1h-1zM316 138h1v1h-1zM322 138h1v1h-1zM316 144h1v1h-1zM322 144h1v1h-1zM315 137h1v1h-1zM323 137h1v1h-1zM315 145h1v1h-1zM323 145h1v1h-1z"/>
<path d="M322 150h9v1h-9zM326 146h1v9h-1zM325 149h3v3h-3zM324 148h1v1h-1zM328 148h1v1h-1zM324 152h1v1h-1zM328 152h1v1h-1zM323 147h1v1h-1zM329 147h1v1h-1zM323 153h1v1h-1zM329 153h1v1h-1zM322 146h1v1h-1zM330 146h1v1h-1zM322 154h1v1h-1zM330 154h1v1h-1z"/>
<path d="M323 151h9v1h-9zM327 147h1v9h-1zM326 150h3v3h-3zM325 149h1v1h-1zM329 149h1v1h-1zM325 153h1v1h-1zM329 153h1v1h-1zM324 148h1v1h-1zM330 148h1v1h-1zM324 154h1v1h-1zM330 154h1v1h-1zM323 147h1v1h-1zM331 147h1v1h-1zM323 155h1v1h-1zM331 155h1v1h-1z"/>
<path d="M324 151h9v1h-9zM328 147h1v9h-1zM327 150h3v3h-3zM326 149h1v1h-1zM330 149h1v1h-1zM326 153h1v1h-1zM330 153h1v1h-1zM325 148h1v1h-1zM331 148h1v1h-1zM325 154h1v1h-1zM331 154h1v1h-1zM324 147h1v1h-1zM332 147h1v1h-1zM324 155h1v1h-1zM332 155h1v1h-1z"/>
<path d="M328 141h9v1h-9zM332 137h1v9h-1zM331 140h3v3h-3zM330 139h1v1h-1zM334 139h1v1h-1zM330 143h1v1h-1zM334 143h1v1h-1zM329 138h1v1h-1zM335 138h1v1h-1zM329 144h1v1h-1zM335 144h1v1h-1zM328 137h1v1h-1zM336 137h1v1h-1zM328 145h1v1h-1zM336 145h1v1h-1z"/>
<path d="M331 141h9v1h-9zM335 137h1v9h-1zM334 140h3v3h-3zM333 139h1v1h-1zM337 139h1v1h-1zM333 143h1v1h-1zM337 143h1v1h-1zM332 138h1v1h-1zM338 138h1v1h-1zM332 144h1v1h-1zM338 144h1v1h-1zM331 137h1v1h-1zM339 137h1v1h-1zM331 145h1v1h-1zM339 145h1v1h-1z"/>
<path d="M334 141h9v1h-9zM338 137h1v9h-1zM337 140h3v3h-3zM336 139h1v1h-1zM340 139h1v1h-1zM336 143h1v1h-1zM340 143h1v1h-1zM335 138h1v1h-1zM341 138h1v1h-1zM335 144h1v1h-1zM341 144h1v1h-1zM334 137h1v1h-1zM342 137h1v1h-1zM334 145h1v1h-1zM342 145h1v1h-1z"/>
<path d="M336 141h9v1h-9zM340 137h1v9h-1zM339 140h3v3h-3zM338 139h1v1h-1zM342 139h1v1h-1zM338 143h1v1h-1zM342 143h1v1h-1zM337 138h1v1h-1zM343 138h1v1h-1zM337 144h1v1h-1zM343 144h1v1h-1zM336 137h1v1h-1zM344 137h1v1h-1zM336 145h1v1h-1zM344 145h1v1h-1z"/>
<path d="M339 141h9v1h-9zM343 137h1v9h-1zM342 140h3v3h-3zM341 139h1v1h-1zM345 139h1v1h-1zM341 143h1v1h-1zM345 143h1v1h-1zM340 138h1v1h-1zM346 138h1v1h-1zM340 144h1v1h-1zM346 144h1v1h-1zM339 137h1v1h-1zM347 137h1v1h-1zM339 145h1v1h-1zM347 145h1v1h-1z"/>
<path d="M342 141h9v1h-9zM346 137h1v9h-1zM345 140h3v3h-3zM344 139h1v1h-1zM348 139h1v1h-1zM344 143h1v1h-1zM348 143h1v1h-1zM343 138h1v1h-1zM349 138h1v1h-1zM343 144h1v1h-1zM349 144h1v1h-1zM342 137h1v1h-1zM350 137h1v1h-1zM342 145h1v1h-1zM350 145h1v1h-1z"/>
<path d="M344 141h9v1h-9zM348 137h1v9h-1zM347 140h3v3h-3zM346 139h1v1h-1zM350 139h1v1h-1zM346 143h1v1h-1zM350 143h1v1h-1zM345 138h1v1h-1zM351 138h1v1h-1zM345 144h1v1h-1zM351 144h1v1h-1zM344 137h1v1h-1zM352 137h1v1h-1zM344 145h1v1h-1zM352 145h1v1h-1z"/>
<path d="M347 141h9v1h-9zM351 137h1v9h-1zM350 140h3v3h-3zM349 139h1v1h-1zM353 139h1v1h-1zM349 143h1v1h-1zM353 143h1v1h-1zM348 138h1v1h-1zM354 138h1v1h-1zM348 144h1v1h-1zM354 144h1v1h-1zM347 137h1v1h-1zM355 137h1v1h-1zM347 145h1v1h-1zM355 145h1v1h-1z"/>
<path d="M350 141h9v1h-9zM354 137h1v9h-1zM353 140h3v3h-3zM352 139h1v1h-1zM356 139h1v1h-1zM352 143h1v1h-1zM356 143h1v1h-1zM351 138h1v1h-1zM357 138h1v1h-1zM351 144h1v1h-1zM357 144h1v1h-1zM350 137h1v1h-1zM358 137h1v1h-1zM350 145h1v1h-1zM358 145h1v1h-1z"/>
<path d="M352 141h9v1h-9zM356 137h1v9h-1zM355 140h3v3h-3zM354 139h1v1h-1zM358 139h1v1h-1zM354 143h1v1h-1zM358 143h1v1h-1zM353 138h1v1h-1zM359 138h1v1h-1zM353 144h1v1h-1zM359 144h1v1h-1zM352 137h1v1h-1zM360 137h1v1h-1zM352 145h1v1h-1zM360 145h1v1h-1z"/>
<path d="M355 141h9v1h-9zM359 137h1v9h-1zM358 140h3v3h-3zM357 139h1v1h-1zM361 139h1v1h-1zM357 143h1v1h-1zM361 143h1v1h-1zM356 138h1v1h-1zM362 138h1v1h-1zM356 144h1v1h-1zM362 144h1v1h-1zM355 137h1v1h-1zM363 137h1v1h-1zM355 145h1v1h-1zM363 145h1v1h-1z"/>
<path d="M358 141h9v1h-9zM362 137h1v9h-1zM361 140h3v3h-3zM360 139h1v1h-1zM364 139h1v1h-1zM360 143h1v1h-1zM364 143h1v1h-1zM359 138h1v1h-1zM365 138h1v1h-1zM359 144h1v1h-1zM365 144h1v1h-1zM358 137h1v1h-1zM366 137h1v1h-1zM358 145h1v1h-1zM366 145h1v1h-1z"/>
<path d="M359 141h9v1h-9zM363 137h1v9h-1zM362 140h3v3h-3zM361 139h1v1h-1zM365 139h1v1h-1zM361 143h1v1h-1zM365 143h1v1h-1zM360 138h1v1h-1zM366 138h1v1h-1zM360 144h1v1h-1zM366 144h1v1h-1zM359 137h1v1h-1zM367 137h1v1h-1zM359 145h1v1h-1zM367 145h1v1h-1z"/>
</g>
<g class="k">
</g>
</svg>
</body>
</html>
